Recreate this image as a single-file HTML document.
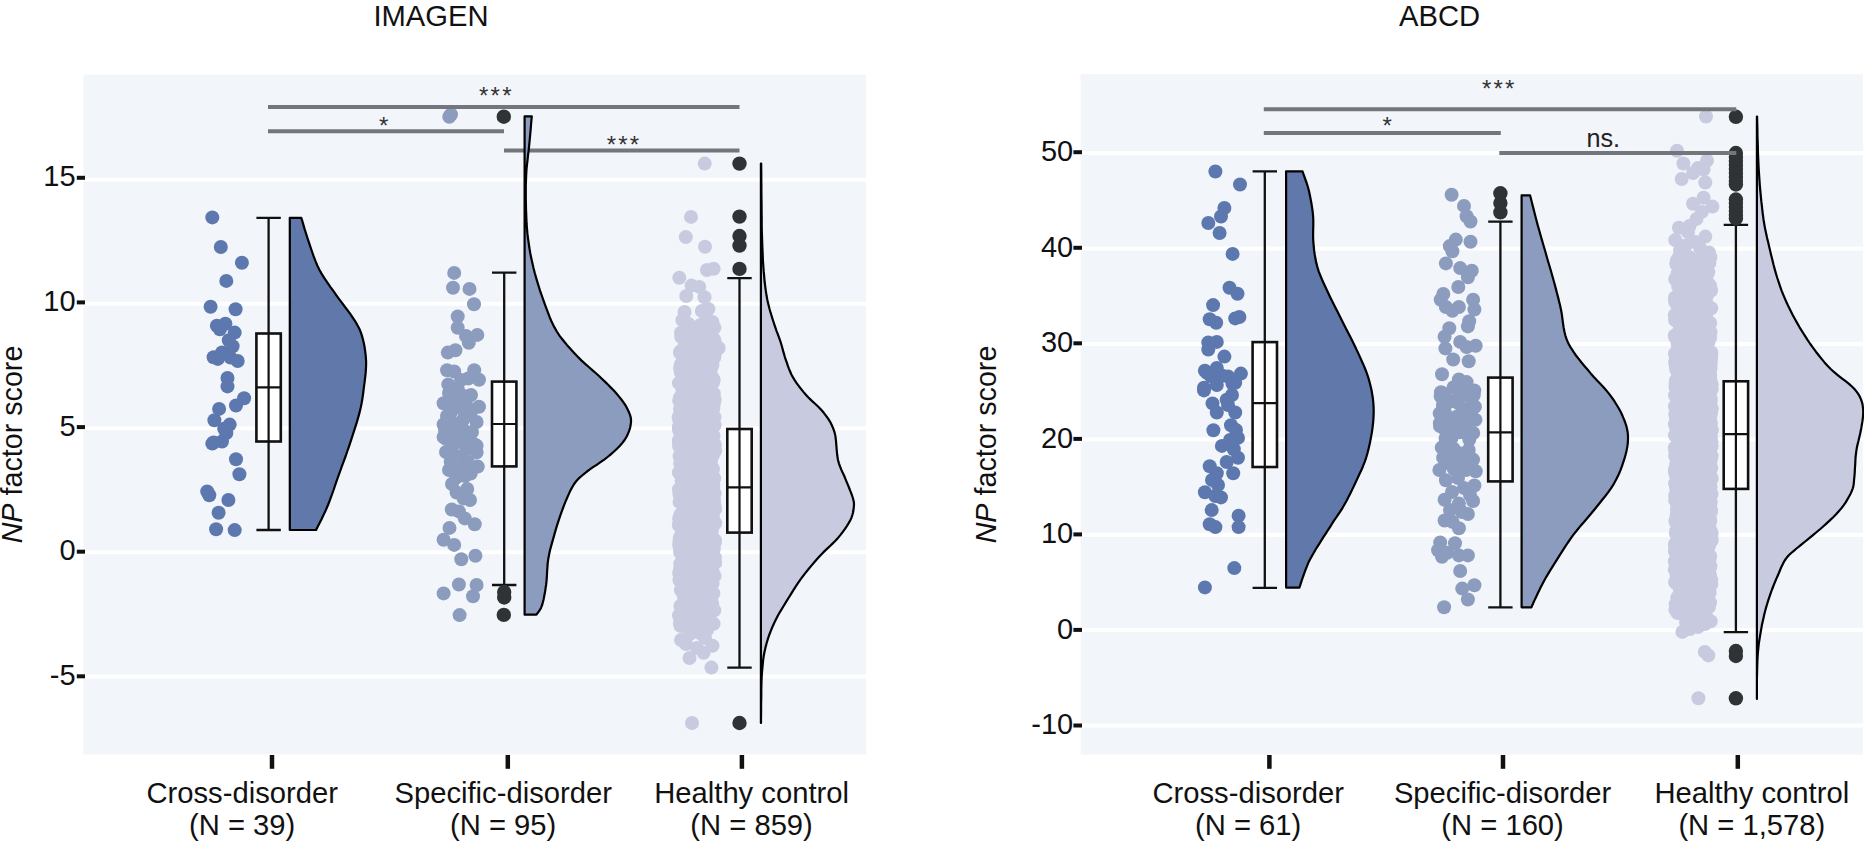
<!DOCTYPE html>
<html lang="en"><head><meta charset="utf-8"><title>NP factor score — IMAGEN and ABCD</title>
<style>html,body{margin:0;padding:0;background:#fff}body{width:1865px;height:849px;overflow:hidden}</style></head>
<body>
<svg width="1865" height="849" viewBox="0 0 1865 849" style="display:block;font-family:'Liberation Sans',Arial,Helvetica,sans-serif">
<rect width="1865" height="849" fill="#fff"/>
<rect x="83.4" y="74.6" width="782.5" height="679.9" fill="#f2f5f9"/>
<rect x="1080.6" y="74.2" width="782.4" height="680.3" fill="#f2f5f9"/>
<g stroke="#fff" stroke-width="4">
<path d="M83.4 179.8H865.9"/>
<path d="M83.4 303.8H865.9"/>
<path d="M83.4 428.2H865.9"/>
<path d="M83.4 552.3H865.9"/>
<path d="M83.4 676.4H865.9"/>
<path d="M1080.6 153H1863"/>
<path d="M1080.6 248.4H1863"/>
<path d="M1080.6 343.9H1863"/>
<path d="M1080.6 439.4H1863"/>
<path d="M1080.6 534.8H1863"/>
<path d="M1080.6 630.2H1863"/>
<path d="M1080.6 725.5H1863"/>
</g>
<g fill="#5d78ae">
<circle cx="212.3" cy="217.4" r="7"/><circle cx="220.8" cy="247" r="7"/><circle cx="241.9" cy="262.7" r="7"/><circle cx="226.3" cy="280.9" r="7"/><circle cx="210.6" cy="306.8" r="7"/><circle cx="235.6" cy="309.3" r="7"/><circle cx="216.9" cy="325.8" r="7"/><circle cx="225.4" cy="323.7" r="7"/><circle cx="234.7" cy="332.6" r="7"/><circle cx="228.8" cy="340.3" r="7"/><circle cx="213.6" cy="357.2" r="7"/><circle cx="222" cy="352.5" r="7"/><circle cx="230.5" cy="357.6" r="7"/><circle cx="237.7" cy="361" r="7"/><circle cx="227.5" cy="378" r="7"/><circle cx="227.5" cy="386.4" r="7"/><circle cx="244.1" cy="398.3" r="7"/><circle cx="236" cy="405.5" r="7"/><circle cx="219.1" cy="408.9" r="7"/><circle cx="214.4" cy="420.3" r="7"/><circle cx="229.7" cy="424.6" r="7"/><circle cx="226.3" cy="433.1" r="7"/><circle cx="222" cy="441.5" r="7"/><circle cx="212.3" cy="443.6" r="7"/><circle cx="236" cy="459.3" r="7"/><circle cx="239.4" cy="474.2" r="7"/><circle cx="207.2" cy="491.5" r="7"/><circle cx="209.3" cy="495.3" r="7"/><circle cx="228.4" cy="500" r="7"/><circle cx="218.6" cy="512.7" r="7"/><circle cx="216.1" cy="529.2" r="7"/><circle cx="234.7" cy="530.1" r="7"/><circle cx="219.9" cy="329.2" r="7"/><circle cx="217.8" cy="358.9" r="7"/><circle cx="232.6" cy="346.2" r="7"/><circle cx="224.2" cy="428.8" r="7"/><circle cx="213.6" cy="442.4" r="7"/>
</g>
<g fill="#8c9cbe">
<circle cx="454.2" cy="272.9" r="7"/><circle cx="453" cy="287.7" r="7"/><circle cx="469.5" cy="288.9" r="7"/><circle cx="474" cy="304.2" r="7"/><circle cx="457.7" cy="316.5" r="7"/><circle cx="457.7" cy="327.8" r="7"/><circle cx="477.3" cy="334.9" r="7"/><circle cx="466" cy="336" r="7"/><circle cx="468.8" cy="342.7" r="7"/><circle cx="455.4" cy="350.2" r="7"/><circle cx="447.8" cy="352.6" r="7"/><circle cx="447.1" cy="370.3" r="7"/><circle cx="454.2" cy="371.5" r="7"/><circle cx="474.2" cy="370.3" r="7"/><circle cx="468.3" cy="378.5" r="7"/><circle cx="479" cy="379.7" r="7"/><circle cx="448.3" cy="384.4" r="7"/><circle cx="457.7" cy="389.2" r="7"/><circle cx="464.8" cy="396.2" r="7"/><circle cx="443.6" cy="403.3" r="7"/><circle cx="479" cy="406.8" r="7"/><circle cx="450.7" cy="412.7" r="7"/><circle cx="469.5" cy="415" r="7"/><circle cx="443.6" cy="424.5" r="7"/><circle cx="476.6" cy="422" r="7"/><circle cx="462.5" cy="429" r="7"/><circle cx="446" cy="438.7" r="7"/><circle cx="469.5" cy="438.7" r="7"/><circle cx="476.6" cy="445.8" r="7"/><circle cx="443.6" cy="437" r="7"/><circle cx="457.7" cy="439.4" r="7"/><circle cx="474.2" cy="444.2" r="7"/><circle cx="476.6" cy="452.4" r="7"/><circle cx="453" cy="453.6" r="7"/><circle cx="462.5" cy="456" r="7"/><circle cx="450.7" cy="461.8" r="7"/><circle cx="477.8" cy="466.6" r="7"/><circle cx="470.7" cy="473.6" r="7"/><circle cx="456" cy="477.9" r="7"/><circle cx="467.2" cy="489" r="7"/><circle cx="456.6" cy="492.5" r="7"/><circle cx="463.6" cy="498.4" r="7"/><circle cx="451.8" cy="509.5" r="7"/><circle cx="458.9" cy="511.4" r="7"/><circle cx="464.8" cy="518.4" r="7"/><circle cx="474.7" cy="524.3" r="7"/><circle cx="449.5" cy="527.9" r="7"/><circle cx="443.6" cy="539.7" r="7"/><circle cx="454.2" cy="544.9" r="7"/><circle cx="475.4" cy="555.7" r="7"/><circle cx="461.3" cy="559.2" r="7"/><circle cx="458.9" cy="584.5" r="7"/><circle cx="476.6" cy="585" r="7"/><circle cx="443.6" cy="593.4" r="7"/><circle cx="473" cy="596.3" r="7"/><circle cx="459.6" cy="615.1" r="7"/><circle cx="449.3" cy="116.7" r="7"/><circle cx="451" cy="114.5" r="7"/><circle cx="452" cy="400" r="7"/><circle cx="460" cy="408" r="7"/><circle cx="447" cy="416" r="7"/><circle cx="456" cy="424" r="7"/><circle cx="466" cy="404" r="7"/><circle cx="472" cy="432" r="7"/><circle cx="452" cy="446" r="7"/><circle cx="462" cy="443" r="7"/><circle cx="446" cy="452" r="7"/><circle cx="468" cy="462" r="7"/><circle cx="459" cy="468" r="7"/><circle cx="449" cy="470" r="7"/><circle cx="463" cy="420" r="7"/><circle cx="455" cy="432" r="7"/><circle cx="471" cy="395" r="7"/><circle cx="449" cy="393" r="7"/><circle cx="461" cy="380" r="7"/><circle cx="467" cy="449" r="7"/><circle cx="472" cy="410" r="7"/><circle cx="445" cy="430" r="7"/><circle cx="458" cy="398" r="7"/><circle cx="465" cy="476" r="7"/><circle cx="452" cy="484" r="7"/><circle cx="470" cy="500" r="7"/>
</g>
<g fill="#c8cbe0">
<circle cx="691" cy="216.9" r="7"/><circle cx="685.8" cy="237.1" r="7"/><circle cx="705" cy="246.7" r="7"/><circle cx="713.6" cy="268.7" r="7"/><circle cx="707" cy="270" r="7"/><circle cx="679.3" cy="277.8" r="7"/><circle cx="691.5" cy="285.6" r="7"/><circle cx="699.3" cy="286.9" r="7"/><circle cx="686.3" cy="296" r="7"/><circle cx="704.5" cy="297.3" r="7"/><circle cx="684.5" cy="312" r="7"/><circle cx="701.9" cy="311" r="7"/><circle cx="708.4" cy="309" r="7"/><circle cx="718.7" cy="348" r="7"/><circle cx="704.7" cy="163.6" r="7"/><circle cx="689.5" cy="658" r="7"/><circle cx="703.6" cy="652.7" r="7"/><circle cx="712.5" cy="645.7" r="7"/><circle cx="686" cy="644" r="7"/><circle cx="711.4" cy="667.6" r="7"/><circle cx="692" cy="723" r="7"/><circle cx="681" cy="640" r="7"/><circle cx="697" cy="648" r="7"/><circle cx="705" cy="638" r="7"/><circle cx="690" cy="634" r="7"/><circle cx="702.5" cy="421.7" r="7"/><circle cx="697.3" cy="434.8" r="7"/><circle cx="694.2" cy="341.9" r="7"/><circle cx="686.9" cy="579.6" r="7"/><circle cx="699.8" cy="517" r="7"/><circle cx="683" cy="410.9" r="7"/><circle cx="685.3" cy="416.9" r="7"/><circle cx="692.3" cy="502.6" r="7"/><circle cx="680.9" cy="492" r="7"/><circle cx="700.1" cy="454.3" r="7"/><circle cx="707.8" cy="462.3" r="7"/><circle cx="699.7" cy="539.5" r="7"/><circle cx="705.4" cy="484.9" r="7"/><circle cx="706.4" cy="357.1" r="7"/><circle cx="680.1" cy="367.7" r="7"/><circle cx="699.7" cy="529.8" r="7"/><circle cx="704.1" cy="594.9" r="7"/><circle cx="695.4" cy="506.6" r="7"/><circle cx="680.9" cy="468.9" r="7"/><circle cx="715" cy="540.3" r="7"/><circle cx="692.8" cy="578.1" r="7"/><circle cx="695.6" cy="530" r="7"/><circle cx="680.9" cy="372.8" r="7"/><circle cx="687.8" cy="561.2" r="7"/><circle cx="681.6" cy="442.8" r="7"/><circle cx="711" cy="461" r="7"/><circle cx="691.8" cy="407.4" r="7"/><circle cx="687.2" cy="367.4" r="7"/><circle cx="700.3" cy="393.3" r="7"/><circle cx="694" cy="402.5" r="7"/><circle cx="713.6" cy="435.9" r="7"/><circle cx="701.3" cy="536.8" r="7"/><circle cx="711.6" cy="532.3" r="7"/><circle cx="693.3" cy="570.5" r="7"/><circle cx="686.3" cy="339.5" r="7"/><circle cx="680.6" cy="371" r="7"/><circle cx="682.4" cy="320.1" r="7"/><circle cx="710.7" cy="434.2" r="7"/><circle cx="687.9" cy="512.8" r="7"/><circle cx="683.2" cy="429.1" r="7"/><circle cx="681.8" cy="466.3" r="7"/><circle cx="688.4" cy="352.1" r="7"/><circle cx="679.5" cy="580.3" r="7"/><circle cx="692.1" cy="538.6" r="7"/><circle cx="690.8" cy="487.2" r="7"/><circle cx="697.6" cy="552.3" r="7"/><circle cx="679.7" cy="431.6" r="7"/><circle cx="704" cy="407.7" r="7"/><circle cx="685.9" cy="389.2" r="7"/><circle cx="708" cy="470.6" r="7"/><circle cx="685.2" cy="555.5" r="7"/><circle cx="708" cy="567.8" r="7"/><circle cx="683.3" cy="547.6" r="7"/><circle cx="709" cy="573.2" r="7"/><circle cx="683.5" cy="430" r="7"/><circle cx="712.9" cy="524" r="7"/><circle cx="708.9" cy="456.2" r="7"/><circle cx="689.4" cy="386.3" r="7"/><circle cx="688.2" cy="395.5" r="7"/><circle cx="712" cy="451.6" r="7"/><circle cx="700.1" cy="431.1" r="7"/><circle cx="712.3" cy="603.9" r="7"/><circle cx="697.9" cy="477.5" r="7"/><circle cx="707.9" cy="377.5" r="7"/><circle cx="705.2" cy="374.1" r="7"/><circle cx="697.7" cy="494.7" r="7"/><circle cx="682.6" cy="494.4" r="7"/><circle cx="688.8" cy="495.9" r="7"/><circle cx="699.3" cy="562.5" r="7"/><circle cx="697.2" cy="459.2" r="7"/><circle cx="695.3" cy="480.8" r="7"/><circle cx="713.2" cy="487.5" r="7"/><circle cx="713.2" cy="539.6" r="7"/><circle cx="713.2" cy="401.5" r="7"/><circle cx="683.2" cy="583.8" r="7"/><circle cx="687.5" cy="458.8" r="7"/><circle cx="711" cy="527.3" r="7"/><circle cx="713.6" cy="623.8" r="7"/><circle cx="714.9" cy="445.1" r="7"/><circle cx="694.5" cy="581.4" r="7"/><circle cx="685.9" cy="481.9" r="7"/><circle cx="679.4" cy="420" r="7"/><circle cx="679.4" cy="494" r="7"/><circle cx="697.4" cy="424.1" r="7"/><circle cx="680.1" cy="352.9" r="7"/><circle cx="683.4" cy="564.6" r="7"/><circle cx="684.2" cy="577.2" r="7"/><circle cx="680.8" cy="539.9" r="7"/><circle cx="681.4" cy="536.1" r="7"/><circle cx="710" cy="571.7" r="7"/><circle cx="698.9" cy="462.5" r="7"/><circle cx="683.4" cy="611" r="7"/><circle cx="682.7" cy="485.5" r="7"/><circle cx="686.1" cy="370.7" r="7"/><circle cx="706.5" cy="418" r="7"/><circle cx="685.2" cy="411" r="7"/><circle cx="687.9" cy="429" r="7"/><circle cx="696.1" cy="493" r="7"/><circle cx="708.7" cy="613.5" r="7"/><circle cx="709.2" cy="455.7" r="7"/><circle cx="703.9" cy="443.4" r="7"/><circle cx="691.4" cy="519.7" r="7"/><circle cx="681.3" cy="337.1" r="7"/><circle cx="684.7" cy="552.6" r="7"/><circle cx="689.4" cy="408.5" r="7"/><circle cx="695" cy="464.3" r="7"/><circle cx="678.7" cy="417.2" r="7"/><circle cx="697.1" cy="439.8" r="7"/><circle cx="678.9" cy="383.1" r="7"/><circle cx="693.3" cy="402.9" r="7"/><circle cx="689.8" cy="333.1" r="7"/><circle cx="698.1" cy="393.1" r="7"/><circle cx="704.9" cy="555.7" r="7"/><circle cx="690.6" cy="596" r="7"/><circle cx="705.2" cy="629.2" r="7"/><circle cx="709.3" cy="522" r="7"/><circle cx="683.8" cy="550.4" r="7"/><circle cx="709.3" cy="484.5" r="7"/><circle cx="703.7" cy="503.4" r="7"/><circle cx="679.8" cy="537.7" r="7"/><circle cx="682.5" cy="361.8" r="7"/><circle cx="701.7" cy="582.4" r="7"/><circle cx="696.6" cy="516.6" r="7"/><circle cx="698.3" cy="555" r="7"/><circle cx="705.7" cy="527" r="7"/><circle cx="688.4" cy="399.2" r="7"/><circle cx="705.8" cy="549" r="7"/><circle cx="703.7" cy="440.1" r="7"/><circle cx="702.2" cy="560.8" r="7"/><circle cx="688" cy="344.3" r="7"/><circle cx="699.5" cy="553.4" r="7"/><circle cx="688.5" cy="323.9" r="7"/><circle cx="703.4" cy="531" r="7"/><circle cx="695.7" cy="411.3" r="7"/><circle cx="711.4" cy="466.4" r="7"/><circle cx="695.5" cy="614" r="7"/><circle cx="686.4" cy="461.1" r="7"/><circle cx="700" cy="616.9" r="7"/><circle cx="708.7" cy="619.2" r="7"/><circle cx="704.4" cy="479.7" r="7"/><circle cx="678.8" cy="472.6" r="7"/><circle cx="689.8" cy="474.4" r="7"/><circle cx="690.3" cy="364.2" r="7"/><circle cx="706.2" cy="583.8" r="7"/><circle cx="712.6" cy="583.5" r="7"/><circle cx="693.1" cy="411" r="7"/><circle cx="688.8" cy="433.3" r="7"/><circle cx="709.2" cy="335.2" r="7"/><circle cx="697.4" cy="398.3" r="7"/><circle cx="713.7" cy="379.6" r="7"/><circle cx="713.1" cy="518.1" r="7"/><circle cx="680.5" cy="492.5" r="7"/><circle cx="706.2" cy="550" r="7"/><circle cx="680.5" cy="522.4" r="7"/><circle cx="696" cy="611" r="7"/><circle cx="705.7" cy="427.9" r="7"/><circle cx="702.7" cy="626.6" r="7"/><circle cx="693.1" cy="414.5" r="7"/><circle cx="686.3" cy="372.5" r="7"/><circle cx="682" cy="363.8" r="7"/><circle cx="687.5" cy="427.4" r="7"/><circle cx="711.2" cy="401.1" r="7"/><circle cx="693.8" cy="555.4" r="7"/><circle cx="691.1" cy="484.6" r="7"/><circle cx="714.1" cy="339.5" r="7"/><circle cx="686.6" cy="517.7" r="7"/><circle cx="693.3" cy="405.1" r="7"/><circle cx="704.7" cy="326.8" r="7"/><circle cx="700.2" cy="601.2" r="7"/><circle cx="684.4" cy="398" r="7"/><circle cx="713.2" cy="484" r="7"/><circle cx="706.7" cy="546.6" r="7"/><circle cx="680.1" cy="463.6" r="7"/><circle cx="712.4" cy="565.6" r="7"/><circle cx="683.4" cy="522.7" r="7"/><circle cx="704.3" cy="399.1" r="7"/><circle cx="697.9" cy="355.2" r="7"/><circle cx="686.9" cy="503" r="7"/><circle cx="689.7" cy="508.7" r="7"/><circle cx="696.1" cy="522.4" r="7"/><circle cx="713.9" cy="393.7" r="7"/><circle cx="679.5" cy="541.3" r="7"/><circle cx="694.1" cy="476.5" r="7"/><circle cx="712.6" cy="400.8" r="7"/><circle cx="691.1" cy="391.2" r="7"/><circle cx="685.9" cy="452.1" r="7"/><circle cx="714.2" cy="478.5" r="7"/><circle cx="687.1" cy="417.9" r="7"/><circle cx="686.9" cy="475.7" r="7"/><circle cx="713.4" cy="450.9" r="7"/><circle cx="686.5" cy="366" r="7"/><circle cx="680.6" cy="625.9" r="7"/><circle cx="711.6" cy="338.9" r="7"/><circle cx="713" cy="423.4" r="7"/><circle cx="703" cy="554.3" r="7"/><circle cx="690.8" cy="438.9" r="7"/><circle cx="688.9" cy="373.1" r="7"/><circle cx="708.8" cy="385.1" r="7"/><circle cx="680.5" cy="578.1" r="7"/><circle cx="712.4" cy="468.7" r="7"/><circle cx="711.5" cy="380.6" r="7"/><circle cx="681" cy="332.8" r="7"/><circle cx="706.1" cy="608.9" r="7"/><circle cx="688.7" cy="602.1" r="7"/><circle cx="690.3" cy="402.3" r="7"/><circle cx="706.4" cy="406.5" r="7"/><circle cx="687.3" cy="616.2" r="7"/><circle cx="696.8" cy="398.8" r="7"/><circle cx="708.1" cy="611.4" r="7"/><circle cx="690.7" cy="562.7" r="7"/><circle cx="707.3" cy="420.3" r="7"/><circle cx="706.3" cy="344.8" r="7"/><circle cx="679.9" cy="397.7" r="7"/><circle cx="714.6" cy="493.5" r="7"/><circle cx="682.2" cy="403.2" r="7"/><circle cx="695.1" cy="476.5" r="7"/><circle cx="701.4" cy="393.5" r="7"/><circle cx="709.7" cy="531.7" r="7"/><circle cx="709.5" cy="528.6" r="7"/><circle cx="692.4" cy="412.2" r="7"/><circle cx="687.8" cy="551.8" r="7"/><circle cx="711.1" cy="397" r="7"/><circle cx="693.2" cy="501.6" r="7"/><circle cx="689.4" cy="607.1" r="7"/><circle cx="714.3" cy="357.4" r="7"/><circle cx="692.3" cy="503.1" r="7"/><circle cx="688.2" cy="592" r="7"/><circle cx="692.2" cy="514.7" r="7"/><circle cx="688" cy="364.4" r="7"/><circle cx="686.1" cy="508.2" r="7"/><circle cx="703.5" cy="323.6" r="7"/><circle cx="686.1" cy="378.1" r="7"/><circle cx="681" cy="569.7" r="7"/><circle cx="698.8" cy="351.8" r="7"/><circle cx="684.7" cy="520.7" r="7"/><circle cx="689.1" cy="538.4" r="7"/><circle cx="691.8" cy="418.1" r="7"/><circle cx="715.2" cy="450.8" r="7"/><circle cx="705.3" cy="434.2" r="7"/><circle cx="711.7" cy="384" r="7"/><circle cx="693.6" cy="453.1" r="7"/><circle cx="684.6" cy="597.2" r="7"/><circle cx="682" cy="521.2" r="7"/><circle cx="697.2" cy="515.4" r="7"/><circle cx="697.8" cy="365.8" r="7"/><circle cx="696.7" cy="610.6" r="7"/><circle cx="713.2" cy="382" r="7"/><circle cx="684.6" cy="514.8" r="7"/><circle cx="693.5" cy="566.7" r="7"/><circle cx="693.3" cy="377.5" r="7"/><circle cx="683.2" cy="482.6" r="7"/><circle cx="699.3" cy="601.8" r="7"/><circle cx="709.4" cy="557.8" r="7"/><circle cx="689.9" cy="492.7" r="7"/><circle cx="694.3" cy="451.9" r="7"/><circle cx="694.7" cy="526.9" r="7"/><circle cx="706.6" cy="473.7" r="7"/><circle cx="685.3" cy="564.9" r="7"/><circle cx="683.4" cy="468.6" r="7"/><circle cx="694.9" cy="455.2" r="7"/><circle cx="702" cy="480.2" r="7"/><circle cx="680.7" cy="564.2" r="7"/><circle cx="713.5" cy="478.2" r="7"/><circle cx="714.6" cy="575.9" r="7"/><circle cx="707.6" cy="607.6" r="7"/><circle cx="691.5" cy="612.2" r="7"/><circle cx="711.5" cy="557.4" r="7"/><circle cx="712.4" cy="365.1" r="7"/><circle cx="697.2" cy="385.4" r="7"/><circle cx="685.4" cy="420.2" r="7"/><circle cx="684.9" cy="533.4" r="7"/><circle cx="698.1" cy="566.4" r="7"/><circle cx="710.7" cy="519.8" r="7"/><circle cx="711" cy="494.3" r="7"/><circle cx="707.9" cy="517.7" r="7"/><circle cx="706.7" cy="501.3" r="7"/><circle cx="705.9" cy="458.9" r="7"/><circle cx="714.7" cy="399.6" r="7"/><circle cx="690.1" cy="504" r="7"/><circle cx="684.2" cy="320.6" r="7"/><circle cx="697.5" cy="513.4" r="7"/><circle cx="687" cy="601.2" r="7"/><circle cx="678.8" cy="525.1" r="7"/><circle cx="691.8" cy="431.5" r="7"/><circle cx="700.3" cy="390.4" r="7"/><circle cx="713" cy="469.1" r="7"/><circle cx="682.2" cy="396.5" r="7"/><circle cx="707.3" cy="520.4" r="7"/><circle cx="679.1" cy="446.2" r="7"/><circle cx="691.5" cy="522.5" r="7"/><circle cx="713" cy="522.7" r="7"/><circle cx="711.8" cy="550.3" r="7"/><circle cx="680.8" cy="447.5" r="7"/><circle cx="698.9" cy="564.6" r="7"/><circle cx="686" cy="615.4" r="7"/><circle cx="702.2" cy="510.9" r="7"/><circle cx="690" cy="575.4" r="7"/><circle cx="711.3" cy="414.3" r="7"/><circle cx="705.8" cy="554" r="7"/><circle cx="682.6" cy="462.1" r="7"/><circle cx="691" cy="392.9" r="7"/><circle cx="709.6" cy="555.4" r="7"/><circle cx="699" cy="543.5" r="7"/><circle cx="697.9" cy="456.9" r="7"/><circle cx="714" cy="403.3" r="7"/><circle cx="687.3" cy="324.8" r="7"/><circle cx="710.9" cy="554.3" r="7"/><circle cx="711.9" cy="423.2" r="7"/><circle cx="703" cy="518" r="7"/><circle cx="705.2" cy="589.3" r="7"/><circle cx="686.5" cy="499.1" r="7"/><circle cx="712" cy="515.5" r="7"/><circle cx="682.6" cy="365.4" r="7"/><circle cx="683.9" cy="611.7" r="7"/><circle cx="704.1" cy="329" r="7"/><circle cx="705.7" cy="519" r="7"/><circle cx="708.7" cy="434.1" r="7"/><circle cx="710.5" cy="599.9" r="7"/><circle cx="682.8" cy="353.6" r="7"/><circle cx="708.9" cy="575" r="7"/><circle cx="682.4" cy="518.3" r="7"/><circle cx="694.2" cy="384.4" r="7"/><circle cx="689" cy="326.6" r="7"/><circle cx="690.4" cy="544.7" r="7"/><circle cx="691.4" cy="457" r="7"/><circle cx="686.6" cy="541.3" r="7"/><circle cx="708.7" cy="590.7" r="7"/><circle cx="686.1" cy="373.5" r="7"/><circle cx="685.5" cy="474.3" r="7"/><circle cx="709.1" cy="475.3" r="7"/><circle cx="704.3" cy="409.1" r="7"/><circle cx="702" cy="476.5" r="7"/><circle cx="701.7" cy="538.9" r="7"/><circle cx="693.1" cy="431.7" r="7"/><circle cx="711.2" cy="599.6" r="7"/><circle cx="688.3" cy="327.9" r="7"/><circle cx="687.2" cy="439.1" r="7"/><circle cx="706.3" cy="464.7" r="7"/><circle cx="691.5" cy="556.4" r="7"/><circle cx="709.6" cy="422.6" r="7"/><circle cx="684.9" cy="527.9" r="7"/><circle cx="699.9" cy="457.8" r="7"/><circle cx="711.1" cy="359.6" r="7"/><circle cx="689.7" cy="394.7" r="7"/><circle cx="684.4" cy="540.8" r="7"/><circle cx="690.7" cy="369" r="7"/><circle cx="690.7" cy="484" r="7"/><circle cx="713.9" cy="548.8" r="7"/><circle cx="714.7" cy="351.9" r="7"/><circle cx="702.1" cy="456.6" r="7"/><circle cx="692.9" cy="353.6" r="7"/><circle cx="697" cy="568.4" r="7"/><circle cx="683.9" cy="518.6" r="7"/><circle cx="705.8" cy="509.6" r="7"/><circle cx="699.7" cy="605.1" r="7"/><circle cx="687.1" cy="555.2" r="7"/><circle cx="709.9" cy="563.1" r="7"/><circle cx="695.3" cy="533.4" r="7"/><circle cx="682.3" cy="418.3" r="7"/><circle cx="704.8" cy="451.7" r="7"/><circle cx="694.2" cy="517.7" r="7"/><circle cx="693.7" cy="462.9" r="7"/><circle cx="685.4" cy="532" r="7"/><circle cx="692.9" cy="525.5" r="7"/><circle cx="697.4" cy="489.9" r="7"/><circle cx="697.8" cy="520.7" r="7"/><circle cx="683.2" cy="443.2" r="7"/><circle cx="693.3" cy="337.8" r="7"/><circle cx="691.6" cy="452.1" r="7"/><circle cx="705.8" cy="403.3" r="7"/><circle cx="683.4" cy="443.1" r="7"/><circle cx="699.3" cy="519.2" r="7"/><circle cx="708.7" cy="430.9" r="7"/><circle cx="689.5" cy="576.3" r="7"/><circle cx="709.2" cy="492.2" r="7"/><circle cx="688.5" cy="431.4" r="7"/><circle cx="694.3" cy="438.1" r="7"/><circle cx="705.1" cy="378.4" r="7"/><circle cx="689.7" cy="408.3" r="7"/><circle cx="702" cy="470.6" r="7"/><circle cx="712.7" cy="527" r="7"/><circle cx="709" cy="588.3" r="7"/><circle cx="679.1" cy="518.8" r="7"/><circle cx="683.9" cy="398.5" r="7"/><circle cx="711.8" cy="428.8" r="7"/><circle cx="711.3" cy="568.6" r="7"/><circle cx="703.2" cy="511" r="7"/><circle cx="704.1" cy="583.4" r="7"/><circle cx="694.8" cy="486.7" r="7"/><circle cx="683.8" cy="403.1" r="7"/><circle cx="695.8" cy="474.8" r="7"/><circle cx="696.9" cy="365.3" r="7"/><circle cx="678.9" cy="489.4" r="7"/><circle cx="699.3" cy="584" r="7"/><circle cx="692.4" cy="528.9" r="7"/><circle cx="701" cy="519.7" r="7"/><circle cx="711.6" cy="480.3" r="7"/><circle cx="710.2" cy="516.3" r="7"/><circle cx="697.9" cy="435" r="7"/><circle cx="694.6" cy="562" r="7"/><circle cx="709" cy="452.6" r="7"/><circle cx="688.6" cy="446.8" r="7"/><circle cx="690.8" cy="525.5" r="7"/><circle cx="700.2" cy="419.6" r="7"/><circle cx="680.2" cy="519.3" r="7"/><circle cx="689.7" cy="491.3" r="7"/><circle cx="712.4" cy="322" r="7"/><circle cx="707.6" cy="511.1" r="7"/><circle cx="704.2" cy="513.6" r="7"/><circle cx="686.5" cy="507.2" r="7"/><circle cx="706.6" cy="529.4" r="7"/><circle cx="680.1" cy="351.8" r="7"/><circle cx="708.8" cy="525.9" r="7"/><circle cx="688.1" cy="567" r="7"/><circle cx="690.4" cy="414.8" r="7"/><circle cx="712.9" cy="455.2" r="7"/><circle cx="708.4" cy="332.4" r="7"/><circle cx="695" cy="500.7" r="7"/><circle cx="714.6" cy="505.9" r="7"/><circle cx="682.4" cy="469.3" r="7"/><circle cx="684.3" cy="522.4" r="7"/><circle cx="703.7" cy="324.9" r="7"/><circle cx="705" cy="360.5" r="7"/><circle cx="707" cy="378.8" r="7"/><circle cx="705.4" cy="544.1" r="7"/><circle cx="712.8" cy="542.7" r="7"/><circle cx="679.2" cy="545.2" r="7"/><circle cx="681.6" cy="524.3" r="7"/><circle cx="684.8" cy="417.7" r="7"/><circle cx="680.9" cy="590.3" r="7"/><circle cx="694.8" cy="435.4" r="7"/><circle cx="707.9" cy="532.5" r="7"/><circle cx="701.7" cy="434.1" r="7"/><circle cx="707.5" cy="451.2" r="7"/><circle cx="680.9" cy="498" r="7"/><circle cx="700.9" cy="579.8" r="7"/><circle cx="694.4" cy="508.8" r="7"/><circle cx="703.8" cy="598.9" r="7"/><circle cx="708.3" cy="509" r="7"/><circle cx="688.3" cy="409" r="7"/><circle cx="708.6" cy="452.7" r="7"/><circle cx="709.2" cy="598.7" r="7"/><circle cx="709.9" cy="499.6" r="7"/><circle cx="681.8" cy="606.9" r="7"/><circle cx="686" cy="493.9" r="7"/><circle cx="703.5" cy="393.5" r="7"/><circle cx="688" cy="466.1" r="7"/><circle cx="708.2" cy="464.4" r="7"/><circle cx="699.9" cy="562.5" r="7"/><circle cx="700.3" cy="483.9" r="7"/><circle cx="685.3" cy="379.4" r="7"/><circle cx="699.4" cy="540.1" r="7"/><circle cx="684.2" cy="446.4" r="7"/><circle cx="701.9" cy="437.4" r="7"/><circle cx="700.6" cy="567.2" r="7"/><circle cx="679.5" cy="428.3" r="7"/><circle cx="699.5" cy="591.9" r="7"/><circle cx="680.1" cy="622.5" r="7"/><circle cx="681.8" cy="383.1" r="7"/><circle cx="713.4" cy="593.4" r="7"/><circle cx="700.6" cy="605.7" r="7"/><circle cx="713.8" cy="444.8" r="7"/><circle cx="702.1" cy="400.8" r="7"/><circle cx="684.5" cy="443.4" r="7"/><circle cx="688.1" cy="389.6" r="7"/><circle cx="714.8" cy="542.8" r="7"/><circle cx="706.3" cy="337.5" r="7"/><circle cx="706.4" cy="413.8" r="7"/><circle cx="688.1" cy="353.1" r="7"/><circle cx="684.9" cy="359" r="7"/><circle cx="703.5" cy="394.9" r="7"/><circle cx="712.7" cy="381.3" r="7"/><circle cx="682.2" cy="363.9" r="7"/><circle cx="691.1" cy="517.3" r="7"/><circle cx="701.7" cy="578.4" r="7"/><circle cx="680.8" cy="364.8" r="7"/><circle cx="684" cy="544.1" r="7"/><circle cx="693.8" cy="593.4" r="7"/><circle cx="709.4" cy="368.9" r="7"/><circle cx="696.7" cy="425" r="7"/><circle cx="696.2" cy="529.8" r="7"/><circle cx="686.1" cy="409.9" r="7"/><circle cx="711.5" cy="350.6" r="7"/><circle cx="678.8" cy="427" r="7"/><circle cx="685.5" cy="581.3" r="7"/><circle cx="683.8" cy="388.5" r="7"/><circle cx="681.6" cy="543.4" r="7"/><circle cx="686.2" cy="475.6" r="7"/><circle cx="708.4" cy="512.3" r="7"/><circle cx="681.1" cy="503" r="7"/><circle cx="705.1" cy="550.1" r="7"/><circle cx="710.3" cy="425.3" r="7"/><circle cx="712" cy="474.8" r="7"/><circle cx="688.4" cy="469.7" r="7"/><circle cx="692.3" cy="435.3" r="7"/><circle cx="697.7" cy="506.8" r="7"/><circle cx="683.1" cy="460" r="7"/><circle cx="710.4" cy="544.4" r="7"/><circle cx="692.7" cy="420.8" r="7"/><circle cx="710.6" cy="555.9" r="7"/><circle cx="698.4" cy="481.2" r="7"/><circle cx="682.5" cy="390.2" r="7"/><circle cx="704.3" cy="329.4" r="7"/><circle cx="700.6" cy="381.3" r="7"/><circle cx="704.4" cy="501" r="7"/><circle cx="683.2" cy="545.2" r="7"/><circle cx="688.9" cy="475" r="7"/><circle cx="683.7" cy="358.3" r="7"/><circle cx="684.1" cy="505.8" r="7"/><circle cx="684.7" cy="499.9" r="7"/><circle cx="709.4" cy="442.1" r="7"/><circle cx="713.2" cy="485" r="7"/><circle cx="687.5" cy="563.9" r="7"/><circle cx="714.6" cy="425.2" r="7"/><circle cx="701.9" cy="398.3" r="7"/><circle cx="681.2" cy="434.4" r="7"/><circle cx="679.5" cy="456" r="7"/><circle cx="711.1" cy="518.8" r="7"/><circle cx="702.2" cy="597.8" r="7"/><circle cx="688.7" cy="403.5" r="7"/><circle cx="701.4" cy="490.3" r="7"/><circle cx="694.6" cy="398.7" r="7"/><circle cx="689.9" cy="618.6" r="7"/><circle cx="700.5" cy="523.3" r="7"/><circle cx="698.2" cy="404.3" r="7"/><circle cx="683.5" cy="366.6" r="7"/><circle cx="689.3" cy="412.2" r="7"/><circle cx="698.7" cy="396.4" r="7"/><circle cx="686.1" cy="499" r="7"/><circle cx="698.8" cy="543.1" r="7"/><circle cx="690.1" cy="512.4" r="7"/><circle cx="697.5" cy="396.1" r="7"/><circle cx="679.1" cy="440.3" r="7"/><circle cx="687.4" cy="430.7" r="7"/><circle cx="689.1" cy="494.8" r="7"/><circle cx="707" cy="630.1" r="7"/><circle cx="710.6" cy="369.8" r="7"/><circle cx="692.9" cy="458.2" r="7"/><circle cx="682.7" cy="458.1" r="7"/><circle cx="691" cy="551.9" r="7"/><circle cx="701.3" cy="430.7" r="7"/><circle cx="705.9" cy="482.6" r="7"/><circle cx="707.4" cy="558.5" r="7"/><circle cx="713.9" cy="504" r="7"/><circle cx="707.4" cy="499.6" r="7"/><circle cx="695.5" cy="439.2" r="7"/><circle cx="693" cy="547" r="7"/><circle cx="690.5" cy="494.4" r="7"/><circle cx="685.4" cy="476.9" r="7"/><circle cx="699.8" cy="415.5" r="7"/><circle cx="712.4" cy="502.6" r="7"/><circle cx="709.4" cy="421.7" r="7"/><circle cx="694.3" cy="621.1" r="7"/><circle cx="680.4" cy="605.9" r="7"/><circle cx="712.4" cy="497.4" r="7"/><circle cx="715.2" cy="562.9" r="7"/><circle cx="703.8" cy="482.5" r="7"/><circle cx="700.5" cy="442.3" r="7"/><circle cx="682.3" cy="532.4" r="7"/><circle cx="699.2" cy="437.6" r="7"/><circle cx="714" cy="500.3" r="7"/><circle cx="701.6" cy="472.8" r="7"/><circle cx="684.9" cy="486.5" r="7"/><circle cx="682.7" cy="579.4" r="7"/><circle cx="684.4" cy="598.9" r="7"/><circle cx="697.2" cy="411" r="7"/><circle cx="701.8" cy="379.1" r="7"/><circle cx="715.1" cy="509.4" r="7"/><circle cx="693.8" cy="519.9" r="7"/><circle cx="704" cy="567.3" r="7"/><circle cx="709.5" cy="321.2" r="7"/><circle cx="685.9" cy="504.1" r="7"/><circle cx="688.4" cy="476.3" r="7"/><circle cx="715.2" cy="523.1" r="7"/><circle cx="683.1" cy="500.4" r="7"/><circle cx="684.9" cy="353.5" r="7"/><circle cx="701.1" cy="484.1" r="7"/><circle cx="679.2" cy="573.3" r="7"/><circle cx="704.9" cy="562" r="7"/><circle cx="688.5" cy="431.1" r="7"/><circle cx="695.2" cy="502.8" r="7"/><circle cx="711.3" cy="441.1" r="7"/><circle cx="694.8" cy="503" r="7"/><circle cx="680.3" cy="514.7" r="7"/><circle cx="700.8" cy="576.2" r="7"/><circle cx="693" cy="618.2" r="7"/><circle cx="690" cy="545.6" r="7"/><circle cx="707.7" cy="594.8" r="7"/><circle cx="691.8" cy="396.4" r="7"/><circle cx="682.9" cy="411.3" r="7"/><circle cx="693.5" cy="487.6" r="7"/><circle cx="708.9" cy="340.6" r="7"/><circle cx="685.7" cy="430.3" r="7"/><circle cx="680" cy="409" r="7"/><circle cx="684.4" cy="528.6" r="7"/><circle cx="688.6" cy="541.6" r="7"/><circle cx="694.9" cy="582.2" r="7"/><circle cx="705.1" cy="370" r="7"/><circle cx="695.3" cy="478.5" r="7"/><circle cx="687.7" cy="504.5" r="7"/><circle cx="710.6" cy="511" r="7"/><circle cx="706.9" cy="490.4" r="7"/><circle cx="699.5" cy="440.8" r="7"/><circle cx="681.8" cy="417.6" r="7"/><circle cx="682.7" cy="420.8" r="7"/><circle cx="697" cy="496.5" r="7"/><circle cx="690.1" cy="413.2" r="7"/><circle cx="704.9" cy="391.1" r="7"/><circle cx="712" cy="408.7" r="7"/><circle cx="688.8" cy="590.4" r="7"/><circle cx="693.8" cy="528.4" r="7"/><circle cx="687.8" cy="526.9" r="7"/><circle cx="701.7" cy="585.9" r="7"/><circle cx="712.1" cy="377" r="7"/><circle cx="680.2" cy="550.5" r="7"/><circle cx="686" cy="332.6" r="7"/><circle cx="680.1" cy="415.2" r="7"/><circle cx="685.3" cy="417.6" r="7"/><circle cx="704.9" cy="583.6" r="7"/><circle cx="703.7" cy="400" r="7"/><circle cx="709.2" cy="429.6" r="7"/><circle cx="680.3" cy="563.8" r="7"/><circle cx="682.8" cy="334.9" r="7"/><circle cx="712.2" cy="568.5" r="7"/><circle cx="704.1" cy="555.4" r="7"/><circle cx="709" cy="443.6" r="7"/><circle cx="713.3" cy="408.3" r="7"/><circle cx="709.1" cy="537.2" r="7"/><circle cx="680.7" cy="517.2" r="7"/><circle cx="697.4" cy="539.3" r="7"/><circle cx="706.6" cy="611.4" r="7"/><circle cx="698.7" cy="573" r="7"/><circle cx="680.9" cy="490.8" r="7"/><circle cx="686.1" cy="432.4" r="7"/><circle cx="704.6" cy="417.5" r="7"/><circle cx="687.5" cy="530.5" r="7"/><circle cx="713" cy="481.8" r="7"/><circle cx="711.1" cy="430.4" r="7"/><circle cx="698.8" cy="424.7" r="7"/><circle cx="703.1" cy="558.8" r="7"/><circle cx="706.7" cy="508" r="7"/><circle cx="689.3" cy="581" r="7"/><circle cx="680.9" cy="433.2" r="7"/><circle cx="704.4" cy="408.2" r="7"/><circle cx="690.6" cy="460.7" r="7"/><circle cx="684.9" cy="467.2" r="7"/><circle cx="715" cy="342.6" r="7"/><circle cx="704.9" cy="555.6" r="7"/><circle cx="698.6" cy="456.4" r="7"/><circle cx="712.9" cy="522.4" r="7"/><circle cx="687.7" cy="524.9" r="7"/><circle cx="707" cy="363.5" r="7"/><circle cx="685.5" cy="583.6" r="7"/><circle cx="712.6" cy="520.4" r="7"/><circle cx="708.9" cy="422.6" r="7"/><circle cx="698.9" cy="420.5" r="7"/><circle cx="687.5" cy="436" r="7"/><circle cx="704.5" cy="517.3" r="7"/><circle cx="684.5" cy="475.2" r="7"/><circle cx="681.6" cy="414.1" r="7"/><circle cx="694.9" cy="536" r="7"/><circle cx="680.2" cy="624.5" r="7"/><circle cx="705.2" cy="458" r="7"/><circle cx="702.9" cy="453.6" r="7"/><circle cx="691.1" cy="481.6" r="7"/><circle cx="708.9" cy="457.7" r="7"/><circle cx="689.5" cy="603.9" r="7"/><circle cx="691.4" cy="459.2" r="7"/><circle cx="690.5" cy="381.4" r="7"/><circle cx="680.9" cy="514.6" r="7"/><circle cx="689.6" cy="532.4" r="7"/><circle cx="696.3" cy="499.3" r="7"/><circle cx="691.3" cy="523.3" r="7"/><circle cx="685.6" cy="597.9" r="7"/><circle cx="681.8" cy="533.1" r="7"/><circle cx="700" cy="527.4" r="7"/><circle cx="699.4" cy="450.7" r="7"/><circle cx="685.3" cy="444.5" r="7"/><circle cx="698.1" cy="399.6" r="7"/><circle cx="699" cy="399" r="7"/><circle cx="682.8" cy="391.1" r="7"/><circle cx="681.6" cy="481.1" r="7"/><circle cx="694.8" cy="448.1" r="7"/><circle cx="704.9" cy="591.1" r="7"/><circle cx="715" cy="557.7" r="7"/><circle cx="709.1" cy="546.6" r="7"/><circle cx="713.8" cy="443.1" r="7"/><circle cx="683.7" cy="496.8" r="7"/><circle cx="687.4" cy="563.7" r="7"/><circle cx="700.5" cy="436.9" r="7"/><circle cx="704.6" cy="386.9" r="7"/><circle cx="701.4" cy="453.8" r="7"/><circle cx="703.6" cy="427.2" r="7"/><circle cx="692.4" cy="579.2" r="7"/><circle cx="700.8" cy="546.6" r="7"/><circle cx="712.6" cy="572.1" r="7"/><circle cx="685.8" cy="532" r="7"/><circle cx="700" cy="460.3" r="7"/><circle cx="682.7" cy="355.7" r="7"/><circle cx="699" cy="571.4" r="7"/><circle cx="692.6" cy="411.1" r="7"/><circle cx="708.3" cy="489.1" r="7"/><circle cx="691.2" cy="617.9" r="7"/><circle cx="710.7" cy="367.4" r="7"/><circle cx="685.4" cy="571.3" r="7"/><circle cx="684.5" cy="443.3" r="7"/><circle cx="710.7" cy="585.4" r="7"/><circle cx="690.8" cy="511.8" r="7"/><circle cx="684.9" cy="505" r="7"/><circle cx="699.8" cy="433.3" r="7"/><circle cx="678.9" cy="441.8" r="7"/><circle cx="679.5" cy="501.9" r="7"/><circle cx="703.3" cy="334.2" r="7"/><circle cx="697" cy="405.6" r="7"/><circle cx="698" cy="402.3" r="7"/><circle cx="701.9" cy="563.1" r="7"/><circle cx="707.8" cy="434" r="7"/><circle cx="706.6" cy="533.9" r="7"/><circle cx="701.9" cy="552.2" r="7"/><circle cx="693.6" cy="430" r="7"/><circle cx="690.5" cy="339" r="7"/><circle cx="687.3" cy="435.3" r="7"/><circle cx="679" cy="429.7" r="7"/><circle cx="695" cy="593.5" r="7"/><circle cx="684.9" cy="498.6" r="7"/><circle cx="690" cy="340.8" r="7"/><circle cx="713" cy="548.2" r="7"/><circle cx="685.2" cy="503.2" r="7"/><circle cx="691.8" cy="502.3" r="7"/><circle cx="710.5" cy="563.2" r="7"/><circle cx="688.1" cy="602.3" r="7"/><circle cx="688.5" cy="327.2" r="7"/><circle cx="693.3" cy="541.2" r="7"/><circle cx="683.7" cy="594.9" r="7"/><circle cx="710.7" cy="379.1" r="7"/><circle cx="686.5" cy="520.9" r="7"/><circle cx="702.5" cy="422.6" r="7"/><circle cx="691.1" cy="447.3" r="7"/><circle cx="700.6" cy="425" r="7"/><circle cx="679.2" cy="400.7" r="7"/><circle cx="701.2" cy="630.1" r="7"/><circle cx="682.1" cy="547.4" r="7"/><circle cx="706.8" cy="369" r="7"/><circle cx="700.2" cy="452.9" r="7"/><circle cx="700.7" cy="494.3" r="7"/><circle cx="688.1" cy="423.9" r="7"/><circle cx="707.1" cy="543.4" r="7"/><circle cx="714.5" cy="417.1" r="7"/><circle cx="697.9" cy="462.3" r="7"/><circle cx="679" cy="615.5" r="7"/><circle cx="707" cy="469.4" r="7"/><circle cx="683.6" cy="348.2" r="7"/><circle cx="713.1" cy="494.3" r="7"/><circle cx="685.2" cy="434.8" r="7"/><circle cx="707.2" cy="370.9" r="7"/><circle cx="691.3" cy="476.7" r="7"/><circle cx="690.6" cy="571.4" r="7"/><circle cx="705.5" cy="603.7" r="7"/><circle cx="680.9" cy="446.2" r="7"/><circle cx="712.3" cy="497.2" r="7"/><circle cx="688.3" cy="390.4" r="7"/><circle cx="686.1" cy="456.2" r="7"/><circle cx="689.6" cy="558.4" r="7"/><circle cx="699.5" cy="632.2" r="7"/><circle cx="706.2" cy="592.9" r="7"/><circle cx="690.8" cy="578.4" r="7"/><circle cx="684.6" cy="472.5" r="7"/><circle cx="695.3" cy="534.4" r="7"/><circle cx="686.4" cy="501.9" r="7"/><circle cx="707.2" cy="597.4" r="7"/><circle cx="710.3" cy="591.1" r="7"/><circle cx="714.4" cy="327.7" r="7"/><circle cx="703.7" cy="350.6" r="7"/><circle cx="712.3" cy="348.3" r="7"/><circle cx="687.3" cy="627.6" r="7"/><circle cx="680.1" cy="568.7" r="7"/><circle cx="694.5" cy="478.5" r="7"/><circle cx="715" cy="352.9" r="7"/><circle cx="685.3" cy="362.6" r="7"/><circle cx="705.7" cy="535.2" r="7"/><circle cx="691.6" cy="477.2" r="7"/><circle cx="691.5" cy="475.8" r="7"/><circle cx="688.4" cy="405.7" r="7"/><circle cx="697.3" cy="341.6" r="7"/><circle cx="692" cy="448.2" r="7"/><circle cx="698.8" cy="525.1" r="7"/><circle cx="694" cy="445.4" r="7"/><circle cx="683.9" cy="441" r="7"/><circle cx="700.9" cy="633.5" r="7"/><circle cx="701.1" cy="610.9" r="7"/><circle cx="686" cy="438.4" r="7"/><circle cx="698.8" cy="421.9" r="7"/><circle cx="700.4" cy="588" r="7"/><circle cx="701.7" cy="632.4" r="7"/><circle cx="704.8" cy="553.4" r="7"/><circle cx="701.1" cy="443.6" r="7"/><circle cx="701.7" cy="532.6" r="7"/><circle cx="701.1" cy="490.5" r="7"/><circle cx="697.8" cy="468.6" r="7"/><circle cx="683.9" cy="469.7" r="7"/><circle cx="708.5" cy="484.5" r="7"/><circle cx="708.8" cy="394.9" r="7"/><circle cx="709" cy="464.5" r="7"/><circle cx="709.2" cy="333.6" r="7"/><circle cx="684.3" cy="576.8" r="7"/><circle cx="691.8" cy="399" r="7"/><circle cx="695.3" cy="572.2" r="7"/><circle cx="715.2" cy="347.6" r="7"/><circle cx="696.2" cy="538.2" r="7"/><circle cx="687.4" cy="435.2" r="7"/><circle cx="692.6" cy="436.4" r="7"/><circle cx="699.6" cy="325.6" r="7"/><circle cx="705" cy="338.1" r="7"/><circle cx="687.6" cy="406.2" r="7"/><circle cx="702" cy="581.9" r="7"/><circle cx="694.2" cy="589.7" r="7"/><circle cx="692.3" cy="568.8" r="7"/><circle cx="689.5" cy="435.3" r="7"/><circle cx="708.4" cy="448.1" r="7"/><circle cx="699.9" cy="430.6" r="7"/><circle cx="714.3" cy="610.4" r="7"/><circle cx="703.1" cy="543.5" r="7"/><circle cx="706.4" cy="423.4" r="7"/><circle cx="696.9" cy="439.1" r="7"/><circle cx="709.4" cy="465.2" r="7"/><circle cx="711.3" cy="450.3" r="7"/><circle cx="697.4" cy="458.1" r="7"/><circle cx="680.2" cy="552.5" r="7"/><circle cx="706.9" cy="533.5" r="7"/><circle cx="686.8" cy="561.7" r="7"/>
</g>
<g fill="#5d78ae">
<circle cx="1215.4" cy="171.5" r="7"/><circle cx="1240" cy="184.5" r="7"/><circle cx="1224.4" cy="208" r="7"/><circle cx="1221" cy="216.5" r="7"/><circle cx="1208.3" cy="223" r="7"/><circle cx="1219.6" cy="233" r="7"/><circle cx="1232.6" cy="253.9" r="7"/><circle cx="1229.5" cy="287.8" r="7"/><circle cx="1237.5" cy="293.8" r="7"/><circle cx="1213.1" cy="305.1" r="7"/><circle cx="1235.2" cy="318.4" r="7"/><circle cx="1239.4" cy="317" r="7"/><circle cx="1209.7" cy="319.3" r="7"/><circle cx="1216.2" cy="322.7" r="7"/><circle cx="1208.3" cy="342.5" r="7"/><circle cx="1216.8" cy="341.9" r="7"/><circle cx="1208.3" cy="349.5" r="7"/><circle cx="1224.4" cy="356.6" r="7"/><circle cx="1204.9" cy="370.8" r="7"/><circle cx="1216.8" cy="367.9" r="7"/><circle cx="1240.9" cy="373.6" r="7"/><circle cx="1211.1" cy="376.4" r="7"/><circle cx="1228.1" cy="376.4" r="7"/><circle cx="1232.4" cy="383.5" r="7"/><circle cx="1216.8" cy="385" r="7"/><circle cx="1204" cy="387.8" r="7"/><circle cx="1206.9" cy="372.8" r="7"/><circle cx="1222.5" cy="375.7" r="7"/><circle cx="1235.2" cy="382.7" r="7"/><circle cx="1204" cy="390.4" r="7"/><circle cx="1226.7" cy="399.7" r="7"/><circle cx="1212.5" cy="403.4" r="7"/><circle cx="1216.8" cy="412.5" r="7"/><circle cx="1235.2" cy="412.5" r="7"/><circle cx="1231" cy="425.2" r="7"/><circle cx="1213.4" cy="430.3" r="7"/><circle cx="1238" cy="437.9" r="7"/><circle cx="1221.9" cy="445.9" r="7"/><circle cx="1233.8" cy="449.3" r="7"/><circle cx="1238" cy="457.7" r="7"/><circle cx="1226.7" cy="462" r="7"/><circle cx="1209.7" cy="466.2" r="7"/><circle cx="1216.8" cy="473.3" r="7"/><circle cx="1233.2" cy="473.3" r="7"/><circle cx="1204.9" cy="492.3" r="7"/><circle cx="1215.4" cy="496" r="7"/><circle cx="1221" cy="497.4" r="7"/><circle cx="1211.7" cy="510.1" r="7"/><circle cx="1238.6" cy="515.8" r="7"/><circle cx="1209.7" cy="524.3" r="7"/><circle cx="1215.4" cy="527.1" r="7"/><circle cx="1238.6" cy="527.1" r="7"/><circle cx="1234.3" cy="568.1" r="7"/><circle cx="1204.9" cy="587.4" r="7"/><circle cx="1228" cy="405" r="7"/><circle cx="1232" cy="395" r="7"/><circle cx="1236" cy="430" r="7"/><circle cx="1230" cy="440" r="7"/><circle cx="1212" cy="480" r="7"/><circle cx="1218" cy="485" r="7"/>
</g>
<g fill="#8c9cbe">
<circle cx="1451.6" cy="194.8" r="7"/><circle cx="1464" cy="205.9" r="7"/><circle cx="1466.6" cy="216.3" r="7"/><circle cx="1470.5" cy="221.5" r="7"/><circle cx="1455.8" cy="239.6" r="7"/><circle cx="1470.5" cy="241.7" r="7"/><circle cx="1449.8" cy="246.1" r="7"/><circle cx="1452.4" cy="251.2" r="7"/><circle cx="1445.9" cy="263.4" r="7"/><circle cx="1460.2" cy="268.1" r="7"/><circle cx="1471.8" cy="270.7" r="7"/><circle cx="1467.9" cy="277.2" r="7"/><circle cx="1458.3" cy="287" r="7"/><circle cx="1443.3" cy="294" r="7"/><circle cx="1440.7" cy="299.7" r="7"/><circle cx="1473.1" cy="299.7" r="7"/><circle cx="1445.9" cy="307" r="7"/><circle cx="1458.9" cy="307" r="7"/><circle cx="1452.4" cy="310.8" r="7"/><circle cx="1474.4" cy="309.5" r="7"/><circle cx="1469.2" cy="321.2" r="7"/><circle cx="1467.9" cy="326.4" r="7"/><circle cx="1449.3" cy="328.2" r="7"/><circle cx="1444.6" cy="336.7" r="7"/><circle cx="1460.2" cy="341.9" r="7"/><circle cx="1475.7" cy="345.8" r="7"/><circle cx="1466.6" cy="347.1" r="7"/><circle cx="1445.4" cy="348.4" r="7"/><circle cx="1453.2" cy="359.5" r="7"/><circle cx="1468.7" cy="361.3" r="7"/><circle cx="1442" cy="374.3" r="7"/><circle cx="1458.9" cy="379.5" r="7"/><circle cx="1466.6" cy="382.1" r="7"/><circle cx="1453.7" cy="387.3" r="7"/><circle cx="1440.7" cy="396.3" r="7"/><circle cx="1471.8" cy="392.4" r="7"/><circle cx="1439.4" cy="470" r="7"/><circle cx="1453.7" cy="468.7" r="7"/><circle cx="1473.1" cy="459.6" r="7"/><circle cx="1475.7" cy="471.2" r="7"/><circle cx="1445.9" cy="480.3" r="7"/><circle cx="1474.4" cy="485.5" r="7"/><circle cx="1464" cy="488.1" r="7"/><circle cx="1444.6" cy="499.7" r="7"/><circle cx="1458.9" cy="503.6" r="7"/><circle cx="1473.1" cy="501" r="7"/><circle cx="1467.9" cy="514" r="7"/><circle cx="1444.6" cy="520.5" r="7"/><circle cx="1452.4" cy="521.8" r="7"/><circle cx="1458.9" cy="528.2" r="7"/><circle cx="1440.2" cy="542.5" r="7"/><circle cx="1455" cy="543.3" r="7"/><circle cx="1438.1" cy="550.3" r="7"/><circle cx="1447.2" cy="552.8" r="7"/><circle cx="1442" cy="556.7" r="7"/><circle cx="1458.9" cy="555.4" r="7"/><circle cx="1467.9" cy="555.4" r="7"/><circle cx="1460.2" cy="571" r="7"/><circle cx="1474.4" cy="585.2" r="7"/><circle cx="1462.2" cy="588.6" r="7"/><circle cx="1467.9" cy="599.5" r="7"/><circle cx="1444.1" cy="607.3" r="7"/><circle cx="1458" cy="478" r="7"/><circle cx="1466" cy="470" r="7"/><circle cx="1452" cy="492" r="7"/><circle cx="1470" cy="495" r="7"/><circle cx="1462" cy="512" r="7"/><circle cx="1450" cy="510" r="7"/><circle cx="1443.2" cy="393.9" r="7"/><circle cx="1459.8" cy="394.7" r="7"/><circle cx="1465.1" cy="392.2" r="7"/><circle cx="1464.4" cy="424.7" r="7"/><circle cx="1475.4" cy="419.8" r="7"/><circle cx="1444.7" cy="450.1" r="7"/><circle cx="1439.7" cy="413.4" r="7"/><circle cx="1448.9" cy="463.1" r="7"/><circle cx="1470.4" cy="411.8" r="7"/><circle cx="1454.6" cy="430.2" r="7"/><circle cx="1470.7" cy="391.9" r="7"/><circle cx="1448.8" cy="448.9" r="7"/><circle cx="1458.8" cy="403.4" r="7"/><circle cx="1457.1" cy="416.4" r="7"/><circle cx="1468.4" cy="432.4" r="7"/><circle cx="1450.8" cy="430.3" r="7"/><circle cx="1459.8" cy="428.5" r="7"/><circle cx="1468.2" cy="412.6" r="7"/><circle cx="1468.4" cy="410.2" r="7"/><circle cx="1473.2" cy="433" r="7"/><circle cx="1441.6" cy="421.8" r="7"/><circle cx="1441.3" cy="421" r="7"/><circle cx="1461" cy="453.6" r="7"/><circle cx="1457.4" cy="430.6" r="7"/><circle cx="1450.1" cy="439.2" r="7"/><circle cx="1444.7" cy="404" r="7"/><circle cx="1443.1" cy="457.8" r="7"/><circle cx="1473.7" cy="395.2" r="7"/><circle cx="1448.8" cy="419.5" r="7"/><circle cx="1445.1" cy="456.8" r="7"/><circle cx="1441" cy="392.3" r="7"/><circle cx="1447.9" cy="451.5" r="7"/><circle cx="1459.7" cy="432.2" r="7"/><circle cx="1445" cy="412.7" r="7"/><circle cx="1453.6" cy="448.8" r="7"/><circle cx="1462.6" cy="390.5" r="7"/><circle cx="1442.9" cy="405" r="7"/><circle cx="1455" cy="423.3" r="7"/><circle cx="1469.3" cy="439.6" r="7"/><circle cx="1458.4" cy="463.7" r="7"/><circle cx="1466.5" cy="410.1" r="7"/><circle cx="1442.8" cy="425.7" r="7"/><circle cx="1461" cy="424.8" r="7"/><circle cx="1444.5" cy="429.1" r="7"/><circle cx="1469.9" cy="408.6" r="7"/><circle cx="1474.3" cy="390.5" r="7"/><circle cx="1451.5" cy="437.9" r="7"/><circle cx="1466.2" cy="422.2" r="7"/><circle cx="1450.2" cy="401.6" r="7"/><circle cx="1442.9" cy="393.3" r="7"/><circle cx="1460.9" cy="429.9" r="7"/><circle cx="1458" cy="423.1" r="7"/><circle cx="1444.3" cy="395.4" r="7"/><circle cx="1453" cy="431.9" r="7"/><circle cx="1445.6" cy="438.4" r="7"/><circle cx="1469.8" cy="459.6" r="7"/><circle cx="1444.9" cy="454.4" r="7"/><circle cx="1458.8" cy="396.9" r="7"/><circle cx="1445.4" cy="396.9" r="7"/><circle cx="1452.7" cy="428.7" r="7"/><circle cx="1446.8" cy="403" r="7"/><circle cx="1470.9" cy="397.7" r="7"/><circle cx="1440" cy="426.1" r="7"/><circle cx="1468" cy="459.7" r="7"/><circle cx="1447.8" cy="431.4" r="7"/><circle cx="1449" cy="445" r="7"/><circle cx="1458.2" cy="390.3" r="7"/><circle cx="1442.5" cy="410.2" r="7"/><circle cx="1460.9" cy="432" r="7"/><circle cx="1441.7" cy="447.6" r="7"/><circle cx="1474.9" cy="406.7" r="7"/><circle cx="1464.4" cy="391.1" r="7"/><circle cx="1468.7" cy="449.9" r="7"/><circle cx="1439.9" cy="423.1" r="7"/><circle cx="1454.2" cy="459.5" r="7"/>
</g>
<g fill="#c8cbe0">
<circle cx="1706" cy="116.5" r="7"/><circle cx="1677" cy="150.8" r="7"/><circle cx="1683.4" cy="163.5" r="7"/><circle cx="1707" cy="160.6" r="7"/><circle cx="1703.6" cy="169.5" r="7"/><circle cx="1693" cy="173" r="7"/><circle cx="1681.7" cy="179" r="7"/><circle cx="1705.3" cy="182.5" r="7"/><circle cx="1703.6" cy="197.7" r="7"/><circle cx="1693" cy="203.7" r="7"/><circle cx="1712.4" cy="206.6" r="7"/><circle cx="1701.8" cy="211.9" r="7"/><circle cx="1696.5" cy="218.9" r="7"/><circle cx="1689.5" cy="226" r="7"/><circle cx="1678.9" cy="227.8" r="7"/><circle cx="1705.3" cy="236.6" r="7"/><circle cx="1675.3" cy="240.1" r="7"/><circle cx="1685.9" cy="245.4" r="7"/><circle cx="1708.9" cy="252.5" r="7"/><circle cx="1698" cy="168" r="7"/><circle cx="1688" cy="232" r="7"/><circle cx="1695" cy="242" r="7"/><circle cx="1700" cy="248" r="7"/><circle cx="1680" cy="250" r="7"/><circle cx="1704.8" cy="651.9" r="7"/><circle cx="1708.3" cy="655.4" r="7"/><circle cx="1698.4" cy="698.3" r="7"/><circle cx="1682.4" cy="631.9" r="7"/><circle cx="1690" cy="629" r="7"/><circle cx="1698" cy="627" r="7"/><circle cx="1705" cy="624" r="7"/><circle cx="1710.7" cy="621.3" r="7"/><circle cx="1686" cy="622" r="7"/><circle cx="1694" cy="618" r="7"/><circle cx="1701.9" cy="288" r="7"/><circle cx="1687.5" cy="503.1" r="7"/><circle cx="1682.9" cy="307.1" r="7"/><circle cx="1703.6" cy="430.6" r="7"/><circle cx="1697.9" cy="487.6" r="7"/><circle cx="1710.5" cy="383.1" r="7"/><circle cx="1679.8" cy="500.9" r="7"/><circle cx="1705.3" cy="470.9" r="7"/><circle cx="1679.1" cy="449.5" r="7"/><circle cx="1691.7" cy="340.5" r="7"/><circle cx="1708.4" cy="342.1" r="7"/><circle cx="1689.3" cy="505.5" r="7"/><circle cx="1678" cy="556.6" r="7"/><circle cx="1687.4" cy="493.5" r="7"/><circle cx="1704.1" cy="472.5" r="7"/><circle cx="1704.9" cy="262" r="7"/><circle cx="1691.7" cy="408.4" r="7"/><circle cx="1687.9" cy="378.1" r="7"/><circle cx="1684.8" cy="362.3" r="7"/><circle cx="1699.3" cy="511.2" r="7"/><circle cx="1700.1" cy="549.8" r="7"/><circle cx="1710.2" cy="323" r="7"/><circle cx="1707.7" cy="387.9" r="7"/><circle cx="1689.4" cy="478.1" r="7"/><circle cx="1693.5" cy="437.9" r="7"/><circle cx="1705.5" cy="615.8" r="7"/><circle cx="1674.8" cy="315" r="7"/><circle cx="1684.1" cy="421.5" r="7"/><circle cx="1695.2" cy="384.2" r="7"/><circle cx="1707.9" cy="393.1" r="7"/><circle cx="1697.9" cy="498.5" r="7"/><circle cx="1688.2" cy="417.7" r="7"/><circle cx="1688.7" cy="496.7" r="7"/><circle cx="1708.4" cy="446.1" r="7"/><circle cx="1710.9" cy="437.3" r="7"/><circle cx="1691.4" cy="504.8" r="7"/><circle cx="1676.1" cy="521.3" r="7"/><circle cx="1710.1" cy="374.4" r="7"/><circle cx="1696.5" cy="580.5" r="7"/><circle cx="1689.3" cy="465.9" r="7"/><circle cx="1685.2" cy="528" r="7"/><circle cx="1694.9" cy="533.5" r="7"/><circle cx="1698.8" cy="409.1" r="7"/><circle cx="1701.1" cy="394.5" r="7"/><circle cx="1680.8" cy="507.5" r="7"/><circle cx="1704.2" cy="465.4" r="7"/><circle cx="1693.9" cy="382.4" r="7"/><circle cx="1702.1" cy="575.4" r="7"/><circle cx="1676.8" cy="318.1" r="7"/><circle cx="1710.6" cy="364.3" r="7"/><circle cx="1686.2" cy="606.2" r="7"/><circle cx="1686.7" cy="599.5" r="7"/><circle cx="1684.4" cy="415.5" r="7"/><circle cx="1710.5" cy="399.4" r="7"/><circle cx="1708.4" cy="353.1" r="7"/><circle cx="1698.4" cy="419.9" r="7"/><circle cx="1680.4" cy="539.4" r="7"/><circle cx="1695.5" cy="531.6" r="7"/><circle cx="1685" cy="500.1" r="7"/><circle cx="1694.4" cy="388" r="7"/><circle cx="1684.4" cy="361" r="7"/><circle cx="1705.4" cy="536.8" r="7"/><circle cx="1709.6" cy="462.2" r="7"/><circle cx="1677.4" cy="352.6" r="7"/><circle cx="1699.9" cy="455.7" r="7"/><circle cx="1678.9" cy="406.2" r="7"/><circle cx="1710.6" cy="367.7" r="7"/><circle cx="1703.5" cy="486.7" r="7"/><circle cx="1702.3" cy="399.6" r="7"/><circle cx="1704.6" cy="380.4" r="7"/><circle cx="1707.1" cy="383.3" r="7"/><circle cx="1699.6" cy="449.6" r="7"/><circle cx="1687.3" cy="584.2" r="7"/><circle cx="1699.5" cy="438.8" r="7"/><circle cx="1696" cy="466.3" r="7"/><circle cx="1708" cy="530.5" r="7"/><circle cx="1700.9" cy="575.8" r="7"/><circle cx="1685" cy="512.2" r="7"/><circle cx="1682.7" cy="556" r="7"/><circle cx="1699.8" cy="337.5" r="7"/><circle cx="1677.5" cy="386.9" r="7"/><circle cx="1674.9" cy="561.2" r="7"/><circle cx="1685" cy="485" r="7"/><circle cx="1676.3" cy="458" r="7"/><circle cx="1683.1" cy="557.2" r="7"/><circle cx="1687" cy="485.1" r="7"/><circle cx="1704.2" cy="462.9" r="7"/><circle cx="1675.9" cy="550.4" r="7"/><circle cx="1693.5" cy="539.2" r="7"/><circle cx="1698.1" cy="410.3" r="7"/><circle cx="1689.6" cy="519.7" r="7"/><circle cx="1683.2" cy="442.4" r="7"/><circle cx="1700.1" cy="304.7" r="7"/><circle cx="1687.4" cy="513.9" r="7"/><circle cx="1685.3" cy="325.1" r="7"/><circle cx="1682.1" cy="443.9" r="7"/><circle cx="1684.6" cy="512.2" r="7"/><circle cx="1710.8" cy="459.9" r="7"/><circle cx="1682.4" cy="517.9" r="7"/><circle cx="1684.6" cy="518.8" r="7"/><circle cx="1698.2" cy="385.4" r="7"/><circle cx="1687.9" cy="272.1" r="7"/><circle cx="1678.7" cy="421.6" r="7"/><circle cx="1679.5" cy="429.4" r="7"/><circle cx="1684.1" cy="440.9" r="7"/><circle cx="1704.8" cy="522.6" r="7"/><circle cx="1675.3" cy="562.3" r="7"/><circle cx="1688.8" cy="333.9" r="7"/><circle cx="1676.4" cy="542.1" r="7"/><circle cx="1697.9" cy="281.8" r="7"/><circle cx="1683.8" cy="488.8" r="7"/><circle cx="1691.7" cy="302" r="7"/><circle cx="1701" cy="469.1" r="7"/><circle cx="1701.6" cy="416" r="7"/><circle cx="1701.2" cy="401.7" r="7"/><circle cx="1700.4" cy="343.3" r="7"/><circle cx="1708.4" cy="427.7" r="7"/><circle cx="1683.6" cy="474.1" r="7"/><circle cx="1705.3" cy="398.8" r="7"/><circle cx="1676.2" cy="486.7" r="7"/><circle cx="1676.6" cy="548.2" r="7"/><circle cx="1680.5" cy="590.6" r="7"/><circle cx="1704.7" cy="514.4" r="7"/><circle cx="1678.7" cy="315.3" r="7"/><circle cx="1706.3" cy="589.6" r="7"/><circle cx="1693.4" cy="458.3" r="7"/><circle cx="1704.4" cy="481.6" r="7"/><circle cx="1695" cy="284.3" r="7"/><circle cx="1675.1" cy="361.9" r="7"/><circle cx="1705.5" cy="527.2" r="7"/><circle cx="1679.3" cy="551.4" r="7"/><circle cx="1690.7" cy="492.6" r="7"/><circle cx="1678.3" cy="454.8" r="7"/><circle cx="1688.4" cy="564.8" r="7"/><circle cx="1680.3" cy="366.2" r="7"/><circle cx="1677.6" cy="535.8" r="7"/><circle cx="1691.7" cy="474" r="7"/><circle cx="1698.8" cy="404.3" r="7"/><circle cx="1707.3" cy="565.4" r="7"/><circle cx="1684.1" cy="416.8" r="7"/><circle cx="1686.8" cy="365.4" r="7"/><circle cx="1711.1" cy="290.5" r="7"/><circle cx="1690.1" cy="355.8" r="7"/><circle cx="1707.6" cy="263.6" r="7"/><circle cx="1703.3" cy="591.2" r="7"/><circle cx="1678.7" cy="545.2" r="7"/><circle cx="1698" cy="556.5" r="7"/><circle cx="1710.5" cy="389.6" r="7"/><circle cx="1698.8" cy="314.6" r="7"/><circle cx="1689.9" cy="452" r="7"/><circle cx="1682.7" cy="608.1" r="7"/><circle cx="1701.3" cy="261" r="7"/><circle cx="1691" cy="616.3" r="7"/><circle cx="1702.4" cy="506" r="7"/><circle cx="1684.3" cy="530.1" r="7"/><circle cx="1710.5" cy="332.2" r="7"/><circle cx="1699.1" cy="490.2" r="7"/><circle cx="1686" cy="473.6" r="7"/><circle cx="1675.3" cy="279.3" r="7"/><circle cx="1679" cy="387.6" r="7"/><circle cx="1700.2" cy="435.7" r="7"/><circle cx="1686" cy="320.8" r="7"/><circle cx="1691.3" cy="404.9" r="7"/><circle cx="1709.3" cy="521.1" r="7"/><circle cx="1675.9" cy="380.6" r="7"/><circle cx="1706.4" cy="557.7" r="7"/><circle cx="1681.8" cy="357.1" r="7"/><circle cx="1699.2" cy="585.4" r="7"/><circle cx="1681.5" cy="469.7" r="7"/><circle cx="1711.2" cy="308.3" r="7"/><circle cx="1695.9" cy="395.4" r="7"/><circle cx="1675.3" cy="337.3" r="7"/><circle cx="1710.4" cy="566.3" r="7"/><circle cx="1679.9" cy="388.4" r="7"/><circle cx="1688.4" cy="542.8" r="7"/><circle cx="1684" cy="446.4" r="7"/><circle cx="1688.9" cy="545.7" r="7"/><circle cx="1682" cy="534.4" r="7"/><circle cx="1688.3" cy="335.7" r="7"/><circle cx="1707" cy="489.5" r="7"/><circle cx="1675.9" cy="560.5" r="7"/><circle cx="1691.8" cy="415.6" r="7"/><circle cx="1679.2" cy="515" r="7"/><circle cx="1683.3" cy="430.5" r="7"/><circle cx="1677.3" cy="416.3" r="7"/><circle cx="1709.5" cy="387.5" r="7"/><circle cx="1683" cy="457.9" r="7"/><circle cx="1707" cy="526.9" r="7"/><circle cx="1681.1" cy="447" r="7"/><circle cx="1677.9" cy="570.7" r="7"/><circle cx="1677.6" cy="423.8" r="7"/><circle cx="1682.4" cy="420.9" r="7"/><circle cx="1679.2" cy="497.3" r="7"/><circle cx="1699" cy="321.5" r="7"/><circle cx="1692.2" cy="443.3" r="7"/><circle cx="1683.5" cy="525.5" r="7"/><circle cx="1698.9" cy="437.6" r="7"/><circle cx="1708.2" cy="568.1" r="7"/><circle cx="1696.9" cy="322.1" r="7"/><circle cx="1682.8" cy="584.2" r="7"/><circle cx="1702.5" cy="307.1" r="7"/><circle cx="1689.7" cy="468.3" r="7"/><circle cx="1709.9" cy="503.2" r="7"/><circle cx="1693.7" cy="340.8" r="7"/><circle cx="1710.4" cy="422.2" r="7"/><circle cx="1687.5" cy="373.1" r="7"/><circle cx="1688.6" cy="499.4" r="7"/><circle cx="1695.6" cy="349.9" r="7"/><circle cx="1683.7" cy="515.1" r="7"/><circle cx="1694.1" cy="310.3" r="7"/><circle cx="1676.9" cy="467.6" r="7"/><circle cx="1696.5" cy="341.3" r="7"/><circle cx="1707.7" cy="420.7" r="7"/><circle cx="1710.2" cy="496.9" r="7"/><circle cx="1708.6" cy="404.4" r="7"/><circle cx="1685.5" cy="293.9" r="7"/><circle cx="1694.4" cy="572.8" r="7"/><circle cx="1679.1" cy="493.8" r="7"/><circle cx="1696.5" cy="344.7" r="7"/><circle cx="1677.6" cy="606.3" r="7"/><circle cx="1688.4" cy="349.1" r="7"/><circle cx="1677.5" cy="446.7" r="7"/><circle cx="1692.3" cy="525.8" r="7"/><circle cx="1675.2" cy="500.6" r="7"/><circle cx="1701" cy="429" r="7"/><circle cx="1710.3" cy="491.7" r="7"/><circle cx="1690.7" cy="542" r="7"/><circle cx="1689.9" cy="604.7" r="7"/><circle cx="1703.2" cy="386.9" r="7"/><circle cx="1682.8" cy="302.4" r="7"/><circle cx="1679.8" cy="352.8" r="7"/><circle cx="1677.7" cy="403.8" r="7"/><circle cx="1696.1" cy="468" r="7"/><circle cx="1691" cy="385.5" r="7"/><circle cx="1675.5" cy="319.9" r="7"/><circle cx="1688.5" cy="502.1" r="7"/><circle cx="1710.6" cy="487" r="7"/><circle cx="1705.2" cy="365.5" r="7"/><circle cx="1707.2" cy="474.8" r="7"/><circle cx="1675.4" cy="470.3" r="7"/><circle cx="1684.9" cy="450.7" r="7"/><circle cx="1681.2" cy="281.5" r="7"/><circle cx="1683.3" cy="509.3" r="7"/><circle cx="1711.3" cy="352.5" r="7"/><circle cx="1709.4" cy="263" r="7"/><circle cx="1687.2" cy="609.1" r="7"/><circle cx="1690.2" cy="446.1" r="7"/><circle cx="1676.8" cy="430.3" r="7"/><circle cx="1678.2" cy="286.5" r="7"/><circle cx="1684.5" cy="483.2" r="7"/><circle cx="1681.8" cy="380.4" r="7"/><circle cx="1700.4" cy="274.7" r="7"/><circle cx="1683.3" cy="396.2" r="7"/><circle cx="1699.3" cy="340.2" r="7"/><circle cx="1681.9" cy="461.7" r="7"/><circle cx="1698.3" cy="468" r="7"/><circle cx="1690.5" cy="343.7" r="7"/><circle cx="1675.9" cy="450.1" r="7"/><circle cx="1685.6" cy="519.7" r="7"/><circle cx="1697.5" cy="488.9" r="7"/><circle cx="1686.3" cy="584.3" r="7"/><circle cx="1680.6" cy="497.2" r="7"/><circle cx="1701.5" cy="368.7" r="7"/><circle cx="1693.8" cy="288.4" r="7"/><circle cx="1693.6" cy="328" r="7"/><circle cx="1701.3" cy="445.8" r="7"/><circle cx="1678.7" cy="448.7" r="7"/><circle cx="1692.7" cy="281.5" r="7"/><circle cx="1683" cy="347.9" r="7"/><circle cx="1701.2" cy="371.8" r="7"/><circle cx="1691.3" cy="536.4" r="7"/><circle cx="1691.7" cy="481.2" r="7"/><circle cx="1676.2" cy="487.8" r="7"/><circle cx="1697.7" cy="302.9" r="7"/><circle cx="1702.6" cy="365.2" r="7"/><circle cx="1678" cy="536.6" r="7"/><circle cx="1710.5" cy="399.4" r="7"/><circle cx="1703.2" cy="274.6" r="7"/><circle cx="1677.4" cy="305.2" r="7"/><circle cx="1705.6" cy="315.7" r="7"/><circle cx="1703.1" cy="317.6" r="7"/><circle cx="1679.4" cy="411" r="7"/><circle cx="1702.2" cy="298.6" r="7"/><circle cx="1697.1" cy="428.1" r="7"/><circle cx="1701.3" cy="361.1" r="7"/><circle cx="1682" cy="523.2" r="7"/><circle cx="1704.9" cy="604.8" r="7"/><circle cx="1684.2" cy="379.3" r="7"/><circle cx="1680.3" cy="426.8" r="7"/><circle cx="1681.2" cy="567" r="7"/><circle cx="1681.7" cy="527.1" r="7"/><circle cx="1706.7" cy="408.3" r="7"/><circle cx="1703" cy="465.3" r="7"/><circle cx="1710" cy="476.8" r="7"/><circle cx="1705.1" cy="375.1" r="7"/><circle cx="1688.7" cy="352.8" r="7"/><circle cx="1678.9" cy="384.4" r="7"/><circle cx="1707.6" cy="405.4" r="7"/><circle cx="1708.8" cy="531" r="7"/><circle cx="1704.9" cy="521" r="7"/><circle cx="1688.9" cy="348.2" r="7"/><circle cx="1694.7" cy="561.7" r="7"/><circle cx="1687.6" cy="378.5" r="7"/><circle cx="1709.5" cy="575.9" r="7"/><circle cx="1698.9" cy="526.9" r="7"/><circle cx="1687.4" cy="455.4" r="7"/><circle cx="1687.4" cy="572.6" r="7"/><circle cx="1686.9" cy="346.8" r="7"/><circle cx="1677.3" cy="338.7" r="7"/><circle cx="1691.9" cy="525.8" r="7"/><circle cx="1710.1" cy="402.3" r="7"/><circle cx="1707.9" cy="368.8" r="7"/><circle cx="1701.9" cy="427.3" r="7"/><circle cx="1696.5" cy="464.7" r="7"/><circle cx="1707.4" cy="432.2" r="7"/><circle cx="1688.2" cy="498.3" r="7"/><circle cx="1708.6" cy="509.3" r="7"/><circle cx="1690.7" cy="413.4" r="7"/><circle cx="1702.4" cy="385.8" r="7"/><circle cx="1707.5" cy="547.8" r="7"/><circle cx="1709.2" cy="394.5" r="7"/><circle cx="1687" cy="329.4" r="7"/><circle cx="1695" cy="522.5" r="7"/><circle cx="1680.1" cy="438.1" r="7"/><circle cx="1681.6" cy="460.2" r="7"/><circle cx="1682.5" cy="387.7" r="7"/><circle cx="1697.1" cy="548.4" r="7"/><circle cx="1690.4" cy="350.3" r="7"/><circle cx="1678.2" cy="442.8" r="7"/><circle cx="1701.3" cy="258.1" r="7"/><circle cx="1684.3" cy="528.4" r="7"/><circle cx="1697.1" cy="444.1" r="7"/><circle cx="1696.5" cy="585.1" r="7"/><circle cx="1701.1" cy="518.4" r="7"/><circle cx="1705.8" cy="514.6" r="7"/><circle cx="1709.7" cy="592.7" r="7"/><circle cx="1677.4" cy="417.1" r="7"/><circle cx="1698.4" cy="307.7" r="7"/><circle cx="1682.2" cy="535" r="7"/><circle cx="1697.7" cy="314.7" r="7"/><circle cx="1682.9" cy="366.4" r="7"/><circle cx="1686.5" cy="286.9" r="7"/><circle cx="1692.5" cy="439.7" r="7"/><circle cx="1692.8" cy="416.1" r="7"/><circle cx="1680.2" cy="328.1" r="7"/><circle cx="1700.7" cy="317.6" r="7"/><circle cx="1687.8" cy="384.9" r="7"/><circle cx="1680.4" cy="507.4" r="7"/><circle cx="1698.1" cy="521.2" r="7"/><circle cx="1695.3" cy="413.5" r="7"/><circle cx="1709.9" cy="497.2" r="7"/><circle cx="1706.3" cy="308.9" r="7"/><circle cx="1699.9" cy="543.9" r="7"/><circle cx="1681.5" cy="456" r="7"/><circle cx="1686.8" cy="547.4" r="7"/><circle cx="1688.2" cy="430.6" r="7"/><circle cx="1694.5" cy="581.8" r="7"/><circle cx="1689.1" cy="429.6" r="7"/><circle cx="1684.4" cy="477.7" r="7"/><circle cx="1688.2" cy="390.9" r="7"/><circle cx="1705.2" cy="356.4" r="7"/><circle cx="1677" cy="263.9" r="7"/><circle cx="1683.2" cy="549.2" r="7"/><circle cx="1701.9" cy="277" r="7"/><circle cx="1709" cy="591.6" r="7"/><circle cx="1702.5" cy="414" r="7"/><circle cx="1678.2" cy="568.5" r="7"/><circle cx="1679.4" cy="269.9" r="7"/><circle cx="1680.8" cy="485.4" r="7"/><circle cx="1684.2" cy="414.1" r="7"/><circle cx="1680.4" cy="319.7" r="7"/><circle cx="1677" cy="383.8" r="7"/><circle cx="1676" cy="449" r="7"/><circle cx="1696.1" cy="416" r="7"/><circle cx="1697" cy="420.4" r="7"/><circle cx="1709.7" cy="378.7" r="7"/><circle cx="1681.3" cy="460.1" r="7"/><circle cx="1675" cy="395.5" r="7"/><circle cx="1704.3" cy="443.4" r="7"/><circle cx="1695.9" cy="406.7" r="7"/><circle cx="1710.3" cy="521.1" r="7"/><circle cx="1688.7" cy="479.9" r="7"/><circle cx="1702.8" cy="506.4" r="7"/><circle cx="1680.7" cy="351.5" r="7"/><circle cx="1703" cy="531.5" r="7"/><circle cx="1696.5" cy="464.7" r="7"/><circle cx="1678" cy="411.5" r="7"/><circle cx="1685" cy="538.9" r="7"/><circle cx="1684.3" cy="416.8" r="7"/><circle cx="1678.4" cy="521.8" r="7"/><circle cx="1682.7" cy="435.8" r="7"/><circle cx="1688.5" cy="494.2" r="7"/><circle cx="1702.9" cy="464.1" r="7"/><circle cx="1689.6" cy="422.1" r="7"/><circle cx="1679.7" cy="452.9" r="7"/><circle cx="1684" cy="487.8" r="7"/><circle cx="1692.5" cy="552.6" r="7"/><circle cx="1692" cy="581.1" r="7"/><circle cx="1701.8" cy="426.7" r="7"/><circle cx="1704.9" cy="323.5" r="7"/><circle cx="1693.3" cy="299.7" r="7"/><circle cx="1709.2" cy="378.4" r="7"/><circle cx="1684.1" cy="428.5" r="7"/><circle cx="1708.3" cy="588.2" r="7"/><circle cx="1694.5" cy="536.7" r="7"/><circle cx="1678.4" cy="567.2" r="7"/><circle cx="1683.4" cy="504.2" r="7"/><circle cx="1710.4" cy="424.7" r="7"/><circle cx="1700.1" cy="592.1" r="7"/><circle cx="1681" cy="457.7" r="7"/><circle cx="1693" cy="305.9" r="7"/><circle cx="1695.3" cy="353.5" r="7"/><circle cx="1680.8" cy="533.3" r="7"/><circle cx="1710.3" cy="578.5" r="7"/><circle cx="1696.3" cy="613.3" r="7"/><circle cx="1675.9" cy="455.3" r="7"/><circle cx="1685.3" cy="330.5" r="7"/><circle cx="1709.9" cy="485.1" r="7"/><circle cx="1709.9" cy="505.5" r="7"/><circle cx="1706.7" cy="486.8" r="7"/><circle cx="1697.2" cy="499.8" r="7"/><circle cx="1695.3" cy="279.4" r="7"/><circle cx="1679.2" cy="330.9" r="7"/><circle cx="1676.6" cy="515.6" r="7"/><circle cx="1686.4" cy="411.3" r="7"/><circle cx="1690.2" cy="462.9" r="7"/><circle cx="1682.3" cy="556.1" r="7"/><circle cx="1710.6" cy="443.7" r="7"/><circle cx="1677.3" cy="403.4" r="7"/><circle cx="1688.3" cy="354.4" r="7"/><circle cx="1680.8" cy="482.9" r="7"/><circle cx="1688.1" cy="520.3" r="7"/><circle cx="1680" cy="583.6" r="7"/><circle cx="1696.6" cy="313.6" r="7"/><circle cx="1693.4" cy="547.5" r="7"/><circle cx="1690.1" cy="465.1" r="7"/><circle cx="1676.9" cy="453.9" r="7"/><circle cx="1702.8" cy="409.8" r="7"/><circle cx="1692.5" cy="343.9" r="7"/><circle cx="1703.1" cy="397.1" r="7"/><circle cx="1693.4" cy="559.8" r="7"/><circle cx="1677.8" cy="321.9" r="7"/><circle cx="1698.8" cy="376.7" r="7"/><circle cx="1693.8" cy="410.2" r="7"/><circle cx="1680.5" cy="596.9" r="7"/><circle cx="1708.5" cy="367.1" r="7"/><circle cx="1680.9" cy="513.1" r="7"/><circle cx="1706.2" cy="272.5" r="7"/><circle cx="1697.9" cy="491.9" r="7"/><circle cx="1702.3" cy="378.1" r="7"/><circle cx="1681" cy="516.9" r="7"/><circle cx="1699.3" cy="499.7" r="7"/><circle cx="1689.5" cy="257.3" r="7"/><circle cx="1700.2" cy="328.2" r="7"/><circle cx="1683" cy="352.9" r="7"/><circle cx="1690.7" cy="401.9" r="7"/><circle cx="1694.9" cy="312.7" r="7"/><circle cx="1699.6" cy="433.8" r="7"/><circle cx="1685.6" cy="436.4" r="7"/><circle cx="1692.7" cy="428.4" r="7"/><circle cx="1710.9" cy="509.9" r="7"/><circle cx="1686.7" cy="547.5" r="7"/><circle cx="1700.5" cy="519.2" r="7"/><circle cx="1685" cy="389.5" r="7"/><circle cx="1701.7" cy="257.3" r="7"/><circle cx="1688.9" cy="516.9" r="7"/><circle cx="1676.4" cy="500.4" r="7"/><circle cx="1711.7" cy="384.7" r="7"/><circle cx="1694" cy="462" r="7"/><circle cx="1688.6" cy="431.8" r="7"/><circle cx="1683" cy="441.8" r="7"/><circle cx="1693.4" cy="357" r="7"/><circle cx="1681.7" cy="408.4" r="7"/><circle cx="1703.3" cy="449.6" r="7"/><circle cx="1693.9" cy="512.1" r="7"/><circle cx="1685.5" cy="441.9" r="7"/><circle cx="1705.1" cy="402.3" r="7"/><circle cx="1682.7" cy="431.7" r="7"/><circle cx="1686.1" cy="420.5" r="7"/><circle cx="1701.9" cy="386.8" r="7"/><circle cx="1703.8" cy="331.5" r="7"/><circle cx="1698.3" cy="494.3" r="7"/><circle cx="1677.1" cy="508.4" r="7"/><circle cx="1710.4" cy="387.3" r="7"/><circle cx="1710.6" cy="447" r="7"/><circle cx="1687.3" cy="548.8" r="7"/><circle cx="1688.5" cy="524.3" r="7"/><circle cx="1701.1" cy="354.2" r="7"/><circle cx="1710.8" cy="409.3" r="7"/><circle cx="1685.2" cy="322.7" r="7"/><circle cx="1707.8" cy="376.7" r="7"/><circle cx="1703.4" cy="411.5" r="7"/><circle cx="1708.2" cy="392.4" r="7"/><circle cx="1696.8" cy="416" r="7"/><circle cx="1689.2" cy="348.9" r="7"/><circle cx="1688.6" cy="394.1" r="7"/><circle cx="1699.9" cy="533.1" r="7"/><circle cx="1675.6" cy="483.3" r="7"/><circle cx="1685.7" cy="501.5" r="7"/><circle cx="1696.5" cy="587" r="7"/><circle cx="1676.1" cy="465.2" r="7"/><circle cx="1697.1" cy="374.4" r="7"/><circle cx="1682.7" cy="441.7" r="7"/><circle cx="1688.2" cy="369.3" r="7"/><circle cx="1711.3" cy="584.4" r="7"/><circle cx="1688.8" cy="344.7" r="7"/><circle cx="1703.5" cy="551" r="7"/><circle cx="1676.8" cy="430.4" r="7"/><circle cx="1697.9" cy="394.4" r="7"/><circle cx="1704.4" cy="455.6" r="7"/><circle cx="1702.6" cy="294.1" r="7"/><circle cx="1678.2" cy="416.3" r="7"/><circle cx="1674.9" cy="424.1" r="7"/><circle cx="1688.5" cy="290" r="7"/><circle cx="1685.5" cy="413.5" r="7"/><circle cx="1711.1" cy="511.5" r="7"/><circle cx="1693.1" cy="317.6" r="7"/><circle cx="1682.6" cy="391.3" r="7"/><circle cx="1687.2" cy="575.4" r="7"/><circle cx="1685.3" cy="479.8" r="7"/><circle cx="1699.1" cy="390.5" r="7"/><circle cx="1687" cy="449.6" r="7"/><circle cx="1690.2" cy="563.6" r="7"/><circle cx="1699.3" cy="402.3" r="7"/><circle cx="1689.8" cy="498" r="7"/><circle cx="1688.7" cy="422.4" r="7"/><circle cx="1682.9" cy="523" r="7"/><circle cx="1692.3" cy="502" r="7"/><circle cx="1698.7" cy="327.9" r="7"/><circle cx="1698.6" cy="508.6" r="7"/><circle cx="1686.4" cy="318.5" r="7"/><circle cx="1692.7" cy="456.4" r="7"/><circle cx="1686.2" cy="480.4" r="7"/><circle cx="1697.6" cy="503" r="7"/><circle cx="1683" cy="539.9" r="7"/><circle cx="1695.8" cy="417.1" r="7"/><circle cx="1691.4" cy="530.1" r="7"/><circle cx="1697.4" cy="493.6" r="7"/><circle cx="1707.7" cy="445.5" r="7"/><circle cx="1700.3" cy="416.2" r="7"/><circle cx="1682.3" cy="449.9" r="7"/><circle cx="1675.8" cy="583.1" r="7"/><circle cx="1677.5" cy="378.5" r="7"/><circle cx="1680.7" cy="483.2" r="7"/><circle cx="1708.8" cy="362.5" r="7"/><circle cx="1709.1" cy="545.7" r="7"/><circle cx="1709" cy="338.9" r="7"/><circle cx="1706.7" cy="457" r="7"/><circle cx="1691.7" cy="424.9" r="7"/><circle cx="1705.6" cy="358.3" r="7"/><circle cx="1689.5" cy="346.2" r="7"/><circle cx="1710.1" cy="337.6" r="7"/><circle cx="1693.3" cy="390" r="7"/><circle cx="1687.7" cy="385.9" r="7"/><circle cx="1689.8" cy="522.5" r="7"/><circle cx="1708.8" cy="447" r="7"/><circle cx="1703.9" cy="427.7" r="7"/><circle cx="1678.3" cy="384.6" r="7"/><circle cx="1692.6" cy="356.5" r="7"/><circle cx="1682.9" cy="393.2" r="7"/><circle cx="1704.4" cy="415.2" r="7"/><circle cx="1698" cy="457" r="7"/><circle cx="1699.7" cy="552.7" r="7"/><circle cx="1678.5" cy="602.8" r="7"/><circle cx="1680.3" cy="405.9" r="7"/><circle cx="1681.6" cy="397.2" r="7"/><circle cx="1692.4" cy="466.2" r="7"/><circle cx="1693.4" cy="451.7" r="7"/><circle cx="1709.2" cy="560.6" r="7"/><circle cx="1703.2" cy="328.5" r="7"/><circle cx="1682.9" cy="463.5" r="7"/><circle cx="1701.7" cy="540.3" r="7"/><circle cx="1698.8" cy="339.1" r="7"/><circle cx="1677.2" cy="391.3" r="7"/><circle cx="1680.5" cy="490.2" r="7"/><circle cx="1678.5" cy="456.4" r="7"/><circle cx="1677.9" cy="274.4" r="7"/><circle cx="1692.9" cy="348" r="7"/><circle cx="1691.9" cy="347.1" r="7"/><circle cx="1701.5" cy="391.2" r="7"/><circle cx="1675.1" cy="297.5" r="7"/><circle cx="1700.6" cy="375.9" r="7"/><circle cx="1702.8" cy="332.1" r="7"/><circle cx="1689.3" cy="405.9" r="7"/><circle cx="1709.9" cy="369.7" r="7"/><circle cx="1691" cy="442.4" r="7"/><circle cx="1689.8" cy="429.3" r="7"/><circle cx="1691.9" cy="496.6" r="7"/><circle cx="1695.4" cy="465.2" r="7"/><circle cx="1688.5" cy="570.8" r="7"/><circle cx="1692.2" cy="486.1" r="7"/><circle cx="1701.2" cy="303.7" r="7"/><circle cx="1698.6" cy="521.1" r="7"/><circle cx="1675.6" cy="495.1" r="7"/><circle cx="1696.9" cy="416.8" r="7"/><circle cx="1699.6" cy="378.6" r="7"/><circle cx="1704.7" cy="367.3" r="7"/><circle cx="1689.4" cy="390.2" r="7"/><circle cx="1679.3" cy="438.5" r="7"/><circle cx="1710.6" cy="446.3" r="7"/><circle cx="1683.2" cy="395.4" r="7"/><circle cx="1689.3" cy="491.2" r="7"/><circle cx="1678.9" cy="530.9" r="7"/><circle cx="1691.1" cy="574.1" r="7"/><circle cx="1680.4" cy="533.7" r="7"/><circle cx="1709.5" cy="445" r="7"/><circle cx="1695.6" cy="582.6" r="7"/><circle cx="1691.2" cy="407.5" r="7"/><circle cx="1696.5" cy="589.3" r="7"/><circle cx="1709" cy="514.6" r="7"/><circle cx="1701.3" cy="295.7" r="7"/><circle cx="1675.4" cy="302.1" r="7"/><circle cx="1677.8" cy="311" r="7"/><circle cx="1694" cy="289" r="7"/><circle cx="1683.7" cy="407.7" r="7"/><circle cx="1702.3" cy="561.6" r="7"/><circle cx="1706.7" cy="404.6" r="7"/><circle cx="1700.5" cy="292.6" r="7"/><circle cx="1685.1" cy="469.9" r="7"/><circle cx="1691" cy="436.9" r="7"/><circle cx="1685.9" cy="358.5" r="7"/><circle cx="1678" cy="356" r="7"/><circle cx="1683.3" cy="547.6" r="7"/><circle cx="1688.6" cy="439.4" r="7"/><circle cx="1684.9" cy="406.1" r="7"/><circle cx="1711.7" cy="478.7" r="7"/><circle cx="1695.4" cy="491.8" r="7"/><circle cx="1697.6" cy="319.9" r="7"/><circle cx="1701.2" cy="326.6" r="7"/><circle cx="1676.4" cy="492.4" r="7"/><circle cx="1688.7" cy="398.3" r="7"/><circle cx="1698.9" cy="509.4" r="7"/><circle cx="1693.9" cy="402.5" r="7"/><circle cx="1702.3" cy="561.4" r="7"/><circle cx="1688.4" cy="429" r="7"/><circle cx="1695.8" cy="318" r="7"/><circle cx="1678.6" cy="333.2" r="7"/><circle cx="1686" cy="375.8" r="7"/><circle cx="1675.2" cy="353.4" r="7"/><circle cx="1675.3" cy="414.5" r="7"/><circle cx="1674.8" cy="569.6" r="7"/><circle cx="1684.2" cy="605.6" r="7"/><circle cx="1701.1" cy="264.8" r="7"/><circle cx="1683.9" cy="467.8" r="7"/><circle cx="1706.2" cy="578.8" r="7"/><circle cx="1680.5" cy="456.1" r="7"/><circle cx="1689.6" cy="452.5" r="7"/><circle cx="1698" cy="464.6" r="7"/><circle cx="1704.9" cy="474.1" r="7"/><circle cx="1709.1" cy="462.3" r="7"/><circle cx="1687.1" cy="391.1" r="7"/><circle cx="1709.5" cy="491" r="7"/><circle cx="1691.9" cy="539.1" r="7"/><circle cx="1678.9" cy="532.5" r="7"/><circle cx="1684" cy="481.6" r="7"/><circle cx="1679.5" cy="504.9" r="7"/><circle cx="1687.2" cy="305.4" r="7"/><circle cx="1698.2" cy="418.2" r="7"/><circle cx="1691.5" cy="319.5" r="7"/><circle cx="1690.1" cy="406" r="7"/><circle cx="1686.1" cy="469.4" r="7"/><circle cx="1698.7" cy="434.9" r="7"/><circle cx="1697.3" cy="440" r="7"/><circle cx="1687.2" cy="618.7" r="7"/><circle cx="1676.9" cy="260.4" r="7"/><circle cx="1700.6" cy="409.9" r="7"/><circle cx="1675.3" cy="469.3" r="7"/><circle cx="1697.8" cy="395.6" r="7"/><circle cx="1689.8" cy="392.7" r="7"/><circle cx="1707.3" cy="532.1" r="7"/><circle cx="1708.8" cy="498.1" r="7"/><circle cx="1688.8" cy="346.1" r="7"/><circle cx="1697.6" cy="363.7" r="7"/><circle cx="1709.1" cy="376.8" r="7"/><circle cx="1695.7" cy="462.3" r="7"/><circle cx="1691.8" cy="617.2" r="7"/><circle cx="1710.6" cy="457" r="7"/><circle cx="1698.3" cy="482.9" r="7"/><circle cx="1709.8" cy="450.2" r="7"/><circle cx="1707.2" cy="261.1" r="7"/><circle cx="1688.9" cy="547.3" r="7"/><circle cx="1686.8" cy="448.5" r="7"/><circle cx="1703.6" cy="469.6" r="7"/><circle cx="1693.9" cy="602.4" r="7"/><circle cx="1704.5" cy="396.4" r="7"/><circle cx="1703.4" cy="319.7" r="7"/><circle cx="1684.8" cy="596.5" r="7"/><circle cx="1680.8" cy="435.5" r="7"/><circle cx="1695.1" cy="562.1" r="7"/><circle cx="1687" cy="593.8" r="7"/><circle cx="1686" cy="312.7" r="7"/><circle cx="1679.3" cy="511.1" r="7"/><circle cx="1680.1" cy="547.7" r="7"/><circle cx="1674.8" cy="551" r="7"/><circle cx="1705.6" cy="537.4" r="7"/><circle cx="1700.1" cy="370.1" r="7"/><circle cx="1694.9" cy="356.3" r="7"/><circle cx="1700.6" cy="579.7" r="7"/><circle cx="1703.6" cy="501" r="7"/><circle cx="1678.4" cy="534.9" r="7"/><circle cx="1680.7" cy="425.9" r="7"/><circle cx="1707.4" cy="294.8" r="7"/><circle cx="1702.7" cy="314.9" r="7"/><circle cx="1699.4" cy="286.4" r="7"/><circle cx="1691.4" cy="574" r="7"/><circle cx="1683.8" cy="267.3" r="7"/><circle cx="1700.7" cy="541.5" r="7"/><circle cx="1685.6" cy="302.3" r="7"/><circle cx="1682.7" cy="358.7" r="7"/><circle cx="1706.8" cy="374.4" r="7"/><circle cx="1688.9" cy="488.4" r="7"/><circle cx="1706.7" cy="419.7" r="7"/><circle cx="1678.6" cy="349.3" r="7"/><circle cx="1680.6" cy="438.7" r="7"/><circle cx="1692.6" cy="413.4" r="7"/><circle cx="1707.8" cy="395.2" r="7"/><circle cx="1698.4" cy="392.9" r="7"/><circle cx="1693.9" cy="496.3" r="7"/><circle cx="1692.1" cy="360.7" r="7"/><circle cx="1708.9" cy="607" r="7"/><circle cx="1690.1" cy="489.1" r="7"/><circle cx="1706.2" cy="616.7" r="7"/><circle cx="1705.5" cy="554.3" r="7"/><circle cx="1682.1" cy="426.5" r="7"/><circle cx="1690.1" cy="336.5" r="7"/><circle cx="1709.8" cy="465.8" r="7"/><circle cx="1678.8" cy="486.5" r="7"/><circle cx="1711.2" cy="468.3" r="7"/><circle cx="1690.3" cy="406.6" r="7"/><circle cx="1690.6" cy="471.1" r="7"/><circle cx="1693.1" cy="347" r="7"/><circle cx="1695.6" cy="418.4" r="7"/><circle cx="1680.7" cy="331.3" r="7"/><circle cx="1707.7" cy="381.9" r="7"/><circle cx="1694.5" cy="416.8" r="7"/><circle cx="1699.5" cy="271.5" r="7"/><circle cx="1708.8" cy="506.8" r="7"/><circle cx="1677.3" cy="554.5" r="7"/><circle cx="1683.1" cy="457.4" r="7"/><circle cx="1691.3" cy="483.7" r="7"/><circle cx="1681.5" cy="340.8" r="7"/><circle cx="1701.3" cy="552.9" r="7"/><circle cx="1696.8" cy="382.5" r="7"/><circle cx="1695.6" cy="494.1" r="7"/><circle cx="1698.4" cy="500.7" r="7"/><circle cx="1683.3" cy="292.5" r="7"/><circle cx="1691.3" cy="562.9" r="7"/><circle cx="1683.4" cy="517.6" r="7"/><circle cx="1701.6" cy="512.4" r="7"/><circle cx="1696" cy="383.4" r="7"/><circle cx="1686.5" cy="397.3" r="7"/><circle cx="1692.9" cy="456.3" r="7"/><circle cx="1674.8" cy="335.4" r="7"/><circle cx="1703.1" cy="350.3" r="7"/><circle cx="1701.9" cy="487.7" r="7"/><circle cx="1694.6" cy="499.5" r="7"/><circle cx="1682.1" cy="473.6" r="7"/><circle cx="1678.3" cy="369.1" r="7"/><circle cx="1696.2" cy="382.8" r="7"/><circle cx="1684.1" cy="309.8" r="7"/><circle cx="1707.5" cy="443.5" r="7"/><circle cx="1702.5" cy="597.6" r="7"/><circle cx="1684.2" cy="509.2" r="7"/><circle cx="1686.7" cy="260.8" r="7"/><circle cx="1708" cy="328.2" r="7"/><circle cx="1708.1" cy="368.5" r="7"/><circle cx="1679.1" cy="355.1" r="7"/><circle cx="1681.4" cy="389.7" r="7"/><circle cx="1691.3" cy="347" r="7"/><circle cx="1703.4" cy="367" r="7"/><circle cx="1708.8" cy="519.6" r="7"/><circle cx="1692.4" cy="544" r="7"/><circle cx="1707.6" cy="376" r="7"/><circle cx="1709" cy="477.4" r="7"/><circle cx="1700.7" cy="578.9" r="7"/><circle cx="1705.7" cy="342.7" r="7"/><circle cx="1699.4" cy="383.6" r="7"/><circle cx="1681.7" cy="410.8" r="7"/><circle cx="1684.9" cy="514.8" r="7"/><circle cx="1694.3" cy="298.9" r="7"/><circle cx="1682.8" cy="569.4" r="7"/><circle cx="1709.3" cy="534.4" r="7"/><circle cx="1710.2" cy="379" r="7"/><circle cx="1695" cy="580.3" r="7"/><circle cx="1706.2" cy="598.6" r="7"/><circle cx="1710.3" cy="474.7" r="7"/><circle cx="1700.1" cy="519.3" r="7"/><circle cx="1676.4" cy="405.5" r="7"/><circle cx="1704.9" cy="548.4" r="7"/><circle cx="1675.7" cy="365.6" r="7"/><circle cx="1706.6" cy="434.1" r="7"/><circle cx="1710.8" cy="502.5" r="7"/><circle cx="1675.4" cy="520.8" r="7"/><circle cx="1685" cy="472.6" r="7"/><circle cx="1679.9" cy="354.5" r="7"/><circle cx="1708" cy="332.4" r="7"/><circle cx="1679.7" cy="498" r="7"/><circle cx="1674.9" cy="406.4" r="7"/><circle cx="1711.7" cy="408.6" r="7"/><circle cx="1680.2" cy="435.4" r="7"/><circle cx="1679.7" cy="442.5" r="7"/><circle cx="1691.8" cy="352.9" r="7"/><circle cx="1707.7" cy="491.7" r="7"/><circle cx="1711.4" cy="442.2" r="7"/><circle cx="1687" cy="334.3" r="7"/><circle cx="1690.3" cy="370" r="7"/><circle cx="1700.6" cy="432.3" r="7"/><circle cx="1686" cy="521.7" r="7"/><circle cx="1695.3" cy="521.4" r="7"/><circle cx="1681" cy="472.7" r="7"/><circle cx="1704.6" cy="381.2" r="7"/><circle cx="1682.6" cy="612" r="7"/><circle cx="1703.6" cy="527.3" r="7"/><circle cx="1708.9" cy="443.8" r="7"/><circle cx="1696.6" cy="492" r="7"/><circle cx="1696" cy="435.8" r="7"/><circle cx="1690.4" cy="302.9" r="7"/><circle cx="1688.2" cy="413.3" r="7"/><circle cx="1688.5" cy="398.4" r="7"/><circle cx="1675.4" cy="609.8" r="7"/><circle cx="1691.4" cy="518.6" r="7"/><circle cx="1683.6" cy="471.4" r="7"/><circle cx="1692" cy="597.8" r="7"/><circle cx="1707.8" cy="373.9" r="7"/><circle cx="1684.2" cy="560.5" r="7"/><circle cx="1692.2" cy="510.1" r="7"/><circle cx="1704.3" cy="397" r="7"/><circle cx="1677" cy="423.2" r="7"/><circle cx="1704.7" cy="522.4" r="7"/><circle cx="1707.8" cy="498.3" r="7"/><circle cx="1709.2" cy="409.2" r="7"/><circle cx="1683.3" cy="521.8" r="7"/><circle cx="1686.8" cy="380.7" r="7"/><circle cx="1681.5" cy="416" r="7"/><circle cx="1709.7" cy="518.1" r="7"/><circle cx="1690" cy="476.6" r="7"/><circle cx="1687.5" cy="482.9" r="7"/><circle cx="1695.5" cy="268.3" r="7"/><circle cx="1697.7" cy="318.3" r="7"/><circle cx="1685" cy="348.7" r="7"/><circle cx="1684.5" cy="540.8" r="7"/><circle cx="1680.9" cy="415.7" r="7"/><circle cx="1682.7" cy="326" r="7"/><circle cx="1702.9" cy="376.9" r="7"/><circle cx="1689.5" cy="403" r="7"/><circle cx="1684.1" cy="410.9" r="7"/><circle cx="1684.8" cy="504.2" r="7"/><circle cx="1691.8" cy="386.9" r="7"/><circle cx="1681.4" cy="447.7" r="7"/><circle cx="1694.9" cy="378.4" r="7"/><circle cx="1684.4" cy="413.7" r="7"/><circle cx="1684" cy="456.2" r="7"/><circle cx="1687.6" cy="362" r="7"/><circle cx="1676.4" cy="494" r="7"/><circle cx="1694.3" cy="315.8" r="7"/><circle cx="1711.1" cy="412.4" r="7"/><circle cx="1676.5" cy="530.2" r="7"/><circle cx="1699" cy="564.6" r="7"/><circle cx="1685.8" cy="385.7" r="7"/><circle cx="1704.6" cy="292.7" r="7"/><circle cx="1684.9" cy="504.2" r="7"/><circle cx="1690.9" cy="383.4" r="7"/><circle cx="1680.9" cy="594.8" r="7"/><circle cx="1693.7" cy="485.1" r="7"/><circle cx="1683.7" cy="296.3" r="7"/><circle cx="1695.3" cy="443" r="7"/><circle cx="1705.5" cy="426.5" r="7"/><circle cx="1680.1" cy="262.7" r="7"/><circle cx="1679.6" cy="475.2" r="7"/><circle cx="1700.2" cy="506.8" r="7"/><circle cx="1680.5" cy="545" r="7"/><circle cx="1679.8" cy="495.9" r="7"/><circle cx="1679.5" cy="316" r="7"/><circle cx="1695.2" cy="396.2" r="7"/><circle cx="1678.1" cy="403" r="7"/><circle cx="1703.9" cy="534.6" r="7"/><circle cx="1684.2" cy="464.4" r="7"/><circle cx="1694.7" cy="373.2" r="7"/><circle cx="1680.2" cy="576.7" r="7"/><circle cx="1688.5" cy="533.2" r="7"/><circle cx="1705.6" cy="381" r="7"/><circle cx="1687.4" cy="423.7" r="7"/><circle cx="1702.4" cy="372.9" r="7"/><circle cx="1700.5" cy="577.3" r="7"/><circle cx="1702.9" cy="402.9" r="7"/><circle cx="1684.9" cy="458.1" r="7"/><circle cx="1682" cy="367.1" r="7"/><circle cx="1704.8" cy="607" r="7"/><circle cx="1694.8" cy="448.5" r="7"/><circle cx="1678.1" cy="405.3" r="7"/><circle cx="1679.9" cy="590.8" r="7"/><circle cx="1704.6" cy="500.8" r="7"/><circle cx="1683.6" cy="274.8" r="7"/><circle cx="1694.5" cy="539.5" r="7"/><circle cx="1694.3" cy="536.4" r="7"/><circle cx="1685.1" cy="400.9" r="7"/><circle cx="1701.9" cy="503.7" r="7"/><circle cx="1688.3" cy="433.2" r="7"/><circle cx="1704.6" cy="420" r="7"/><circle cx="1675.1" cy="448.6" r="7"/><circle cx="1680.3" cy="434.1" r="7"/><circle cx="1705.3" cy="378.9" r="7"/><circle cx="1679.4" cy="492.1" r="7"/><circle cx="1691.4" cy="373.2" r="7"/><circle cx="1697.1" cy="417.8" r="7"/><circle cx="1679.4" cy="556.7" r="7"/><circle cx="1690.4" cy="381.8" r="7"/><circle cx="1683" cy="605" r="7"/><circle cx="1676.9" cy="264.5" r="7"/><circle cx="1699.7" cy="448.2" r="7"/><circle cx="1685.9" cy="460.2" r="7"/><circle cx="1701.2" cy="523.5" r="7"/><circle cx="1685.4" cy="427.5" r="7"/><circle cx="1706.6" cy="480.3" r="7"/><circle cx="1681.3" cy="553.1" r="7"/><circle cx="1711.2" cy="354.7" r="7"/><circle cx="1687.9" cy="296.5" r="7"/><circle cx="1679" cy="383.1" r="7"/><circle cx="1708.4" cy="563.2" r="7"/><circle cx="1681.3" cy="375.8" r="7"/><circle cx="1694.9" cy="556.5" r="7"/><circle cx="1688.6" cy="596.9" r="7"/><circle cx="1675.7" cy="604.3" r="7"/><circle cx="1695.5" cy="600.4" r="7"/><circle cx="1709.4" cy="387.3" r="7"/><circle cx="1688.4" cy="599.7" r="7"/><circle cx="1701" cy="467.8" r="7"/><circle cx="1708.8" cy="493.5" r="7"/><circle cx="1677.7" cy="382.8" r="7"/><circle cx="1710.7" cy="423" r="7"/><circle cx="1711.1" cy="356.1" r="7"/><circle cx="1706" cy="521.8" r="7"/><circle cx="1706.2" cy="404.8" r="7"/><circle cx="1708.9" cy="465.3" r="7"/><circle cx="1690" cy="415.9" r="7"/><circle cx="1674.9" cy="471.3" r="7"/><circle cx="1704.7" cy="304" r="7"/><circle cx="1702.7" cy="319.5" r="7"/><circle cx="1675.5" cy="474" r="7"/><circle cx="1696.6" cy="413.1" r="7"/><circle cx="1677.6" cy="613" r="7"/><circle cx="1683" cy="508.8" r="7"/><circle cx="1686.8" cy="415.9" r="7"/><circle cx="1680.8" cy="371" r="7"/><circle cx="1686.8" cy="402.4" r="7"/><circle cx="1678.6" cy="545.9" r="7"/><circle cx="1708.8" cy="484.3" r="7"/><circle cx="1679.5" cy="499.8" r="7"/><circle cx="1692.3" cy="478.7" r="7"/><circle cx="1697.3" cy="428" r="7"/><circle cx="1692" cy="410.1" r="7"/><circle cx="1711.6" cy="456.1" r="7"/><circle cx="1683" cy="458.7" r="7"/><circle cx="1684" cy="485.5" r="7"/><circle cx="1691" cy="398.5" r="7"/><circle cx="1682.3" cy="493.4" r="7"/><circle cx="1692.4" cy="279.8" r="7"/><circle cx="1709.2" cy="527.1" r="7"/><circle cx="1677.4" cy="499.7" r="7"/><circle cx="1706.5" cy="486.3" r="7"/><circle cx="1688" cy="406.6" r="7"/><circle cx="1684.5" cy="481.7" r="7"/><circle cx="1684" cy="539.9" r="7"/><circle cx="1685.9" cy="438.2" r="7"/><circle cx="1678.8" cy="477.9" r="7"/><circle cx="1694.2" cy="539.7" r="7"/><circle cx="1711.4" cy="409.3" r="7"/><circle cx="1680" cy="523.8" r="7"/><circle cx="1686.4" cy="501" r="7"/><circle cx="1687.4" cy="449.7" r="7"/><circle cx="1711" cy="383" r="7"/><circle cx="1675.3" cy="544.2" r="7"/><circle cx="1674.9" cy="299.8" r="7"/><circle cx="1702.6" cy="606.7" r="7"/><circle cx="1687.4" cy="338.4" r="7"/><circle cx="1690.9" cy="615.8" r="7"/><circle cx="1694" cy="436.6" r="7"/><circle cx="1690.1" cy="535.3" r="7"/><circle cx="1707.6" cy="527" r="7"/><circle cx="1689.9" cy="524.3" r="7"/><circle cx="1678.4" cy="462.4" r="7"/><circle cx="1676.6" cy="369.3" r="7"/><circle cx="1697.6" cy="516.9" r="7"/><circle cx="1689.4" cy="338.8" r="7"/><circle cx="1706.8" cy="353.9" r="7"/><circle cx="1681.2" cy="486.2" r="7"/><circle cx="1677" cy="352.2" r="7"/><circle cx="1692.6" cy="366" r="7"/><circle cx="1703.9" cy="488.1" r="7"/><circle cx="1711.1" cy="389.4" r="7"/><circle cx="1678.9" cy="544.4" r="7"/><circle cx="1693.1" cy="303.7" r="7"/><circle cx="1688.9" cy="258.2" r="7"/><circle cx="1684.4" cy="330.7" r="7"/><circle cx="1690.1" cy="344.7" r="7"/><circle cx="1675.5" cy="387" r="7"/><circle cx="1683.4" cy="435.4" r="7"/><circle cx="1693.3" cy="580.5" r="7"/><circle cx="1686.6" cy="460.3" r="7"/><circle cx="1698.1" cy="481" r="7"/><circle cx="1677.3" cy="481.8" r="7"/><circle cx="1682.2" cy="318.5" r="7"/><circle cx="1709.4" cy="559.1" r="7"/><circle cx="1699.7" cy="350.7" r="7"/><circle cx="1678.5" cy="341.1" r="7"/><circle cx="1679.8" cy="546" r="7"/><circle cx="1698.4" cy="357.2" r="7"/><circle cx="1702.6" cy="447" r="7"/><circle cx="1681.1" cy="332.4" r="7"/><circle cx="1677.6" cy="344" r="7"/><circle cx="1699.1" cy="383.5" r="7"/><circle cx="1696.7" cy="287.9" r="7"/><circle cx="1678.3" cy="448.8" r="7"/><circle cx="1677.8" cy="462" r="7"/><circle cx="1696.6" cy="537.3" r="7"/><circle cx="1709.8" cy="448.8" r="7"/><circle cx="1694.8" cy="400" r="7"/><circle cx="1701.3" cy="536.1" r="7"/><circle cx="1691.1" cy="334.8" r="7"/><circle cx="1700.9" cy="434.1" r="7"/><circle cx="1693.1" cy="352.1" r="7"/><circle cx="1692.2" cy="386.1" r="7"/><circle cx="1678.7" cy="449.8" r="7"/><circle cx="1681.2" cy="432.2" r="7"/><circle cx="1693.3" cy="417.6" r="7"/><circle cx="1679.7" cy="449" r="7"/><circle cx="1702.3" cy="384" r="7"/><circle cx="1675" cy="435.5" r="7"/><circle cx="1688.4" cy="304.3" r="7"/><circle cx="1710.5" cy="401.4" r="7"/><circle cx="1710.4" cy="415.9" r="7"/><circle cx="1705.4" cy="489.7" r="7"/><circle cx="1710.2" cy="377.7" r="7"/><circle cx="1677.3" cy="450.5" r="7"/><circle cx="1698.6" cy="527.2" r="7"/><circle cx="1707.9" cy="390.3" r="7"/><circle cx="1692.8" cy="337" r="7"/><circle cx="1682.6" cy="613" r="7"/><circle cx="1690.1" cy="545.7" r="7"/><circle cx="1707.7" cy="544.7" r="7"/><circle cx="1692.3" cy="385.9" r="7"/><circle cx="1693.2" cy="349.8" r="7"/><circle cx="1707.2" cy="274.1" r="7"/><circle cx="1680.4" cy="464.9" r="7"/><circle cx="1678.8" cy="430.8" r="7"/><circle cx="1697.4" cy="519.4" r="7"/><circle cx="1707.1" cy="472.4" r="7"/><circle cx="1679.9" cy="315.9" r="7"/><circle cx="1691.8" cy="442.4" r="7"/><circle cx="1701.4" cy="427.1" r="7"/><circle cx="1705.6" cy="451.7" r="7"/><circle cx="1689.2" cy="614.5" r="7"/><circle cx="1702.3" cy="419.8" r="7"/><circle cx="1693.5" cy="585.4" r="7"/><circle cx="1691.7" cy="420.1" r="7"/><circle cx="1681.7" cy="444.4" r="7"/><circle cx="1683.1" cy="410.2" r="7"/><circle cx="1676.6" cy="575.4" r="7"/><circle cx="1689.2" cy="287.4" r="7"/><circle cx="1693.9" cy="516.9" r="7"/><circle cx="1696.3" cy="452.3" r="7"/><circle cx="1705.5" cy="418.4" r="7"/><circle cx="1678.7" cy="507.7" r="7"/><circle cx="1698.4" cy="275.1" r="7"/><circle cx="1704.1" cy="570.7" r="7"/><circle cx="1711.6" cy="533.4" r="7"/><circle cx="1682.8" cy="474" r="7"/><circle cx="1675.2" cy="483.2" r="7"/><circle cx="1706.9" cy="351.4" r="7"/><circle cx="1697.2" cy="477.5" r="7"/><circle cx="1693.9" cy="479.4" r="7"/><circle cx="1699" cy="297.5" r="7"/><circle cx="1684.1" cy="284.9" r="7"/><circle cx="1688" cy="545.9" r="7"/><circle cx="1706.5" cy="342.9" r="7"/><circle cx="1696.2" cy="390.1" r="7"/><circle cx="1701.2" cy="373" r="7"/><circle cx="1705.2" cy="370.3" r="7"/><circle cx="1685.5" cy="426.1" r="7"/><circle cx="1694.5" cy="349.2" r="7"/><circle cx="1684.2" cy="437.8" r="7"/><circle cx="1677.4" cy="597.5" r="7"/><circle cx="1706.5" cy="485.9" r="7"/><circle cx="1691.1" cy="503.2" r="7"/><circle cx="1688.3" cy="504.6" r="7"/><circle cx="1682.8" cy="469.1" r="7"/><circle cx="1698.5" cy="349.4" r="7"/><circle cx="1695.3" cy="464.5" r="7"/><circle cx="1692" cy="444.4" r="7"/><circle cx="1709.1" cy="441.4" r="7"/><circle cx="1675.9" cy="533.5" r="7"/><circle cx="1698.9" cy="511.1" r="7"/><circle cx="1691.5" cy="438.1" r="7"/><circle cx="1708.3" cy="272.1" r="7"/><circle cx="1700.9" cy="454.4" r="7"/><circle cx="1678" cy="490.9" r="7"/><circle cx="1687.4" cy="424.7" r="7"/><circle cx="1677.2" cy="512.5" r="7"/><circle cx="1697.7" cy="458.8" r="7"/><circle cx="1696.1" cy="574.9" r="7"/><circle cx="1680.3" cy="322.1" r="7"/><circle cx="1699.1" cy="424.8" r="7"/><circle cx="1703.2" cy="491.3" r="7"/><circle cx="1693" cy="453.6" r="7"/><circle cx="1693" cy="452.3" r="7"/><circle cx="1701.1" cy="374.8" r="7"/><circle cx="1690.4" cy="423.5" r="7"/><circle cx="1680.6" cy="516.2" r="7"/><circle cx="1677.3" cy="432.2" r="7"/><circle cx="1692.8" cy="367.3" r="7"/><circle cx="1699.4" cy="482" r="7"/><circle cx="1700.5" cy="445.9" r="7"/><circle cx="1706.3" cy="302.9" r="7"/><circle cx="1701.1" cy="462.8" r="7"/><circle cx="1695.2" cy="435.3" r="7"/><circle cx="1676.3" cy="264.1" r="7"/><circle cx="1706.4" cy="494" r="7"/><circle cx="1702.2" cy="493" r="7"/><circle cx="1705.9" cy="453.5" r="7"/><circle cx="1688.2" cy="348.7" r="7"/><circle cx="1695" cy="505.6" r="7"/><circle cx="1688" cy="576.2" r="7"/><circle cx="1693.2" cy="505.8" r="7"/><circle cx="1699.6" cy="350.2" r="7"/><circle cx="1678.7" cy="356.7" r="7"/><circle cx="1693.4" cy="386.8" r="7"/><circle cx="1709.3" cy="388.4" r="7"/><circle cx="1710" cy="567.6" r="7"/><circle cx="1690.5" cy="491.2" r="7"/><circle cx="1706.9" cy="477.5" r="7"/><circle cx="1675.1" cy="581.9" r="7"/><circle cx="1699" cy="539.4" r="7"/><circle cx="1708" cy="283" r="7"/><circle cx="1710.8" cy="388.5" r="7"/><circle cx="1702.9" cy="524.9" r="7"/><circle cx="1705.3" cy="516.9" r="7"/><circle cx="1687.3" cy="499.5" r="7"/><circle cx="1711.6" cy="540.5" r="7"/><circle cx="1686.9" cy="277.5" r="7"/><circle cx="1706.4" cy="386.6" r="7"/><circle cx="1691.1" cy="450" r="7"/><circle cx="1685.1" cy="423.5" r="7"/><circle cx="1680" cy="447.3" r="7"/><circle cx="1704.4" cy="309.3" r="7"/><circle cx="1709.4" cy="413.3" r="7"/><circle cx="1690.4" cy="309.2" r="7"/><circle cx="1690.3" cy="531" r="7"/><circle cx="1685.2" cy="402.5" r="7"/><circle cx="1679.7" cy="602.9" r="7"/><circle cx="1701.5" cy="455.7" r="7"/><circle cx="1685.9" cy="388.6" r="7"/><circle cx="1694.5" cy="413.6" r="7"/><circle cx="1690" cy="358.3" r="7"/><circle cx="1691.7" cy="513.8" r="7"/><circle cx="1698.9" cy="458.8" r="7"/><circle cx="1679" cy="412.2" r="7"/><circle cx="1681.6" cy="309.4" r="7"/><circle cx="1708.4" cy="497" r="7"/><circle cx="1681.6" cy="341.2" r="7"/><circle cx="1704.8" cy="466.5" r="7"/><circle cx="1697.3" cy="501.9" r="7"/><circle cx="1678.2" cy="495" r="7"/><circle cx="1688.6" cy="388.7" r="7"/><circle cx="1703.4" cy="488.6" r="7"/><circle cx="1688.6" cy="570.6" r="7"/><circle cx="1682.6" cy="442.7" r="7"/><circle cx="1710.4" cy="441.4" r="7"/><circle cx="1679.6" cy="561.1" r="7"/><circle cx="1690.9" cy="480.1" r="7"/><circle cx="1695.1" cy="410.6" r="7"/><circle cx="1707" cy="356" r="7"/><circle cx="1685.7" cy="465.2" r="7"/><circle cx="1705.5" cy="465.9" r="7"/><circle cx="1677.8" cy="458" r="7"/><circle cx="1705.1" cy="433.2" r="7"/><circle cx="1686.1" cy="329.9" r="7"/><circle cx="1698.3" cy="548.1" r="7"/><circle cx="1701" cy="267.7" r="7"/><circle cx="1692.3" cy="436.9" r="7"/><circle cx="1693.5" cy="458.8" r="7"/><circle cx="1685.3" cy="467" r="7"/><circle cx="1697.1" cy="562.1" r="7"/><circle cx="1676" cy="457.1" r="7"/><circle cx="1695.7" cy="523.7" r="7"/><circle cx="1680.9" cy="262.2" r="7"/><circle cx="1711.5" cy="493.9" r="7"/><circle cx="1675.3" cy="496.3" r="7"/><circle cx="1705.7" cy="568.3" r="7"/><circle cx="1689.8" cy="429.2" r="7"/><circle cx="1710" cy="480.8" r="7"/><circle cx="1689.5" cy="363.5" r="7"/><circle cx="1684.5" cy="534" r="7"/><circle cx="1704.2" cy="421.4" r="7"/><circle cx="1707.1" cy="494.3" r="7"/><circle cx="1692" cy="267.6" r="7"/><circle cx="1702.7" cy="337.9" r="7"/><circle cx="1696.9" cy="502.7" r="7"/><circle cx="1693.6" cy="457.3" r="7"/><circle cx="1690" cy="452.4" r="7"/><circle cx="1700.4" cy="507.2" r="7"/><circle cx="1678.4" cy="453.6" r="7"/><circle cx="1706.6" cy="549.8" r="7"/><circle cx="1693.8" cy="324" r="7"/><circle cx="1686" cy="520.5" r="7"/><circle cx="1690.3" cy="571.6" r="7"/><circle cx="1700.9" cy="337.4" r="7"/><circle cx="1693.1" cy="387.7" r="7"/><circle cx="1710.3" cy="360.9" r="7"/><circle cx="1682.4" cy="331.2" r="7"/><circle cx="1684.8" cy="444.3" r="7"/><circle cx="1686.1" cy="442" r="7"/><circle cx="1679" cy="340.9" r="7"/><circle cx="1678.1" cy="445.3" r="7"/><circle cx="1702.4" cy="455.7" r="7"/><circle cx="1697.3" cy="480.2" r="7"/><circle cx="1700.8" cy="322.6" r="7"/><circle cx="1690.2" cy="551" r="7"/><circle cx="1707.1" cy="359" r="7"/><circle cx="1703.1" cy="459.7" r="7"/><circle cx="1688.7" cy="357.1" r="7"/><circle cx="1699.5" cy="428.6" r="7"/><circle cx="1706.2" cy="314.6" r="7"/><circle cx="1710.1" cy="602.5" r="7"/><circle cx="1703" cy="329.2" r="7"/><circle cx="1688" cy="258.6" r="7"/><circle cx="1693" cy="382" r="7"/><circle cx="1686.7" cy="447.8" r="7"/><circle cx="1697.5" cy="336.1" r="7"/><circle cx="1696" cy="374.1" r="7"/><circle cx="1706.1" cy="557.1" r="7"/><circle cx="1683.6" cy="440.8" r="7"/><circle cx="1701.5" cy="509.4" r="7"/><circle cx="1685.9" cy="468.6" r="7"/><circle cx="1698.2" cy="529.7" r="7"/><circle cx="1687" cy="454.5" r="7"/><circle cx="1702.5" cy="429.6" r="7"/><circle cx="1684.4" cy="350.5" r="7"/><circle cx="1707.9" cy="331" r="7"/><circle cx="1702" cy="388.3" r="7"/><circle cx="1675.1" cy="353.9" r="7"/><circle cx="1685.5" cy="436.2" r="7"/><circle cx="1701.1" cy="578" r="7"/><circle cx="1708.2" cy="505.9" r="7"/><circle cx="1689.6" cy="523.5" r="7"/><circle cx="1682.8" cy="437.6" r="7"/><circle cx="1696" cy="506.6" r="7"/><circle cx="1691.2" cy="498.6" r="7"/><circle cx="1692.1" cy="609" r="7"/><circle cx="1705.3" cy="284.2" r="7"/><circle cx="1710" cy="391.3" r="7"/><circle cx="1678.9" cy="454.2" r="7"/><circle cx="1678.7" cy="257.7" r="7"/><circle cx="1710.2" cy="555.9" r="7"/><circle cx="1701.1" cy="502.9" r="7"/><circle cx="1677.6" cy="371.8" r="7"/><circle cx="1687.4" cy="467.4" r="7"/><circle cx="1702.2" cy="302.5" r="7"/><circle cx="1683.7" cy="461" r="7"/><circle cx="1676.5" cy="428.9" r="7"/><circle cx="1707.7" cy="419.7" r="7"/><circle cx="1694.9" cy="545.3" r="7"/><circle cx="1684.4" cy="396.9" r="7"/><circle cx="1698.9" cy="409.4" r="7"/><circle cx="1706.2" cy="519.1" r="7"/><circle cx="1692.5" cy="501" r="7"/><circle cx="1689.5" cy="353.8" r="7"/><circle cx="1696.6" cy="421.9" r="7"/><circle cx="1685" cy="580.1" r="7"/><circle cx="1706.2" cy="323.1" r="7"/><circle cx="1688.1" cy="590.7" r="7"/><circle cx="1684" cy="366.5" r="7"/><circle cx="1684.2" cy="438.9" r="7"/><circle cx="1680.5" cy="428.1" r="7"/><circle cx="1678.2" cy="300.8" r="7"/><circle cx="1704.4" cy="300.5" r="7"/><circle cx="1704.6" cy="576" r="7"/><circle cx="1710.1" cy="285.6" r="7"/><circle cx="1678.3" cy="530.5" r="7"/><circle cx="1699.4" cy="491.3" r="7"/><circle cx="1692.4" cy="500.8" r="7"/><circle cx="1697.8" cy="485.5" r="7"/><circle cx="1696.6" cy="539.7" r="7"/><circle cx="1694.5" cy="435.2" r="7"/><circle cx="1682.7" cy="357.1" r="7"/><circle cx="1696.4" cy="332.1" r="7"/><circle cx="1693.6" cy="466.9" r="7"/><circle cx="1693.9" cy="506.5" r="7"/><circle cx="1686.4" cy="299.5" r="7"/><circle cx="1685.7" cy="384.9" r="7"/><circle cx="1709" cy="391.1" r="7"/><circle cx="1704.6" cy="372.5" r="7"/><circle cx="1692" cy="407.3" r="7"/><circle cx="1675.1" cy="320" r="7"/><circle cx="1681.4" cy="329" r="7"/><circle cx="1699" cy="429.3" r="7"/><circle cx="1700.2" cy="405.6" r="7"/><circle cx="1705.8" cy="375.4" r="7"/><circle cx="1700.6" cy="363" r="7"/><circle cx="1676.7" cy="493.8" r="7"/><circle cx="1711.1" cy="359.1" r="7"/><circle cx="1683.7" cy="528.7" r="7"/><circle cx="1681.2" cy="285.5" r="7"/><circle cx="1688.9" cy="314" r="7"/><circle cx="1704" cy="549.2" r="7"/><circle cx="1687.3" cy="454" r="7"/><circle cx="1701.6" cy="271.3" r="7"/><circle cx="1682.2" cy="440.6" r="7"/><circle cx="1706.3" cy="357.7" r="7"/><circle cx="1701.6" cy="512" r="7"/><circle cx="1682.1" cy="517.6" r="7"/><circle cx="1705.8" cy="508.8" r="7"/><circle cx="1694" cy="582.6" r="7"/><circle cx="1698.8" cy="493" r="7"/><circle cx="1692.9" cy="443.7" r="7"/><circle cx="1689.4" cy="406.7" r="7"/><circle cx="1702.4" cy="336.5" r="7"/><circle cx="1693.9" cy="563.8" r="7"/><circle cx="1710.3" cy="397" r="7"/><circle cx="1687.6" cy="477.8" r="7"/><circle cx="1699.3" cy="403.3" r="7"/><circle cx="1702.7" cy="531" r="7"/><circle cx="1681.8" cy="467.4" r="7"/><circle cx="1684.2" cy="520.4" r="7"/><circle cx="1698.5" cy="433.2" r="7"/><circle cx="1703.5" cy="587.1" r="7"/><circle cx="1690.3" cy="450.4" r="7"/><circle cx="1677.7" cy="499.1" r="7"/><circle cx="1679.1" cy="441.5" r="7"/><circle cx="1680.2" cy="380.7" r="7"/><circle cx="1701" cy="335.9" r="7"/><circle cx="1690.3" cy="495.3" r="7"/><circle cx="1704.7" cy="264.3" r="7"/><circle cx="1694.3" cy="297.7" r="7"/><circle cx="1678.9" cy="447.2" r="7"/><circle cx="1678.2" cy="502.3" r="7"/><circle cx="1711.8" cy="430.2" r="7"/><circle cx="1677.6" cy="273.4" r="7"/><circle cx="1694.8" cy="539.1" r="7"/><circle cx="1684.3" cy="513.4" r="7"/><circle cx="1688.8" cy="414.9" r="7"/><circle cx="1690.4" cy="461.4" r="7"/><circle cx="1704.9" cy="440.2" r="7"/><circle cx="1701.1" cy="524.1" r="7"/><circle cx="1681.3" cy="261.8" r="7"/><circle cx="1675.6" cy="384.2" r="7"/><circle cx="1710" cy="575" r="7"/><circle cx="1676.1" cy="419" r="7"/><circle cx="1703.5" cy="540.2" r="7"/><circle cx="1694.2" cy="310.3" r="7"/><circle cx="1681.4" cy="476.7" r="7"/><circle cx="1692.1" cy="416.3" r="7"/><circle cx="1685.1" cy="301.4" r="7"/><circle cx="1695.6" cy="387.8" r="7"/><circle cx="1683.8" cy="514.9" r="7"/><circle cx="1705.5" cy="461.4" r="7"/><circle cx="1694.9" cy="379.4" r="7"/><circle cx="1704" cy="461.2" r="7"/><circle cx="1708.9" cy="432.7" r="7"/><circle cx="1695.1" cy="483" r="7"/><circle cx="1677.1" cy="303.7" r="7"/><circle cx="1690.9" cy="394.4" r="7"/><circle cx="1698.4" cy="339.1" r="7"/><circle cx="1701.3" cy="592.8" r="7"/><circle cx="1690.4" cy="467.9" r="7"/><circle cx="1711.6" cy="446.5" r="7"/><circle cx="1704.8" cy="379.8" r="7"/><circle cx="1693.3" cy="545.2" r="7"/><circle cx="1683.1" cy="563.1" r="7"/><circle cx="1709.2" cy="421" r="7"/><circle cx="1678.7" cy="403.8" r="7"/><circle cx="1681" cy="530.1" r="7"/><circle cx="1681.9" cy="575.2" r="7"/><circle cx="1704.1" cy="306.5" r="7"/><circle cx="1686.3" cy="262.9" r="7"/><circle cx="1699.7" cy="564.7" r="7"/><circle cx="1692.7" cy="549.4" r="7"/><circle cx="1683.8" cy="335.4" r="7"/><circle cx="1679.6" cy="523.6" r="7"/><circle cx="1709.1" cy="360" r="7"/><circle cx="1710.4" cy="530.5" r="7"/><circle cx="1684.2" cy="612" r="7"/><circle cx="1703.4" cy="472.6" r="7"/><circle cx="1699.5" cy="448.8" r="7"/><circle cx="1692.8" cy="601.5" r="7"/><circle cx="1699.6" cy="413.1" r="7"/><circle cx="1678.6" cy="548.3" r="7"/><circle cx="1709" cy="591.4" r="7"/><circle cx="1683" cy="527.5" r="7"/><circle cx="1695.5" cy="420.3" r="7"/><circle cx="1707.2" cy="352.4" r="7"/><circle cx="1705" cy="481.1" r="7"/><circle cx="1690.8" cy="415" r="7"/><circle cx="1707.5" cy="386.1" r="7"/><circle cx="1682.8" cy="364.5" r="7"/><circle cx="1711.6" cy="538.6" r="7"/><circle cx="1702.9" cy="517.7" r="7"/><circle cx="1708.5" cy="563.1" r="7"/><circle cx="1688.8" cy="414.1" r="7"/><circle cx="1685.7" cy="448.4" r="7"/><circle cx="1689.5" cy="517.2" r="7"/><circle cx="1679.6" cy="568.2" r="7"/><circle cx="1694.2" cy="446.4" r="7"/><circle cx="1710.4" cy="257.3" r="7"/><circle cx="1699.1" cy="578.4" r="7"/><circle cx="1705.9" cy="441" r="7"/><circle cx="1700" cy="489.4" r="7"/><circle cx="1705.2" cy="589.1" r="7"/><circle cx="1694.2" cy="530.9" r="7"/><circle cx="1694.8" cy="540.9" r="7"/><circle cx="1687.5" cy="462.8" r="7"/><circle cx="1688.9" cy="476.6" r="7"/><circle cx="1692.7" cy="390.4" r="7"/><circle cx="1685.4" cy="561.3" r="7"/><circle cx="1680.5" cy="398.9" r="7"/><circle cx="1675.8" cy="521.9" r="7"/><circle cx="1678.1" cy="396.3" r="7"/><circle cx="1683.9" cy="423.1" r="7"/><circle cx="1681.2" cy="378.8" r="7"/><circle cx="1695.7" cy="432.6" r="7"/><circle cx="1702.6" cy="506.5" r="7"/><circle cx="1699.1" cy="482.7" r="7"/><circle cx="1709.5" cy="432.1" r="7"/><circle cx="1683.3" cy="384" r="7"/><circle cx="1705.3" cy="492.6" r="7"/><circle cx="1693.2" cy="418.4" r="7"/><circle cx="1700.4" cy="391.6" r="7"/><circle cx="1684.8" cy="484.3" r="7"/><circle cx="1685.7" cy="595.1" r="7"/><circle cx="1709.9" cy="466.4" r="7"/><circle cx="1683.1" cy="613.7" r="7"/><circle cx="1685.3" cy="318.2" r="7"/><circle cx="1677.4" cy="501.5" r="7"/><circle cx="1686.3" cy="265.5" r="7"/><circle cx="1688.3" cy="304.7" r="7"/><circle cx="1697.4" cy="490.1" r="7"/><circle cx="1708.2" cy="307" r="7"/><circle cx="1677.3" cy="509.8" r="7"/><circle cx="1702.1" cy="481.1" r="7"/><circle cx="1674.9" cy="545.3" r="7"/><circle cx="1687" cy="481.9" r="7"/><circle cx="1711.7" cy="388.9" r="7"/><circle cx="1686.3" cy="411.6" r="7"/><circle cx="1689.6" cy="426.8" r="7"/><circle cx="1710.7" cy="409.6" r="7"/><circle cx="1705.4" cy="530.9" r="7"/><circle cx="1675.1" cy="449.5" r="7"/><circle cx="1674.8" cy="447.8" r="7"/><circle cx="1688.1" cy="595.2" r="7"/><circle cx="1678.2" cy="500.9" r="7"/><circle cx="1704.5" cy="429.9" r="7"/><circle cx="1692.7" cy="436" r="7"/><circle cx="1687.2" cy="524" r="7"/><circle cx="1699.7" cy="538.6" r="7"/><circle cx="1709.6" cy="393.4" r="7"/><circle cx="1687.8" cy="539.1" r="7"/><circle cx="1676" cy="413.8" r="7"/><circle cx="1677.2" cy="454.5" r="7"/><circle cx="1690.4" cy="517.7" r="7"/><circle cx="1693.8" cy="335.2" r="7"/><circle cx="1691.7" cy="388.5" r="7"/><circle cx="1695.6" cy="394.7" r="7"/><circle cx="1699.9" cy="525.3" r="7"/><circle cx="1693.1" cy="390.5" r="7"/><circle cx="1707.9" cy="358" r="7"/><circle cx="1705.5" cy="447.1" r="7"/><circle cx="1711.3" cy="580.1" r="7"/><circle cx="1705.6" cy="398.1" r="7"/><circle cx="1688.4" cy="388" r="7"/><circle cx="1706.2" cy="380.5" r="7"/><circle cx="1698.6" cy="543.8" r="7"/><circle cx="1707.1" cy="365.1" r="7"/><circle cx="1682.9" cy="395" r="7"/><circle cx="1698.5" cy="489.8" r="7"/><circle cx="1688" cy="323.4" r="7"/><circle cx="1694.8" cy="465.4" r="7"/><circle cx="1702.2" cy="374.3" r="7"/><circle cx="1702.5" cy="387.3" r="7"/><circle cx="1706" cy="392.7" r="7"/><circle cx="1700.2" cy="456.8" r="7"/><circle cx="1675.1" cy="455.7" r="7"/><circle cx="1707.9" cy="404.3" r="7"/><circle cx="1697.9" cy="473.1" r="7"/><circle cx="1705.5" cy="406" r="7"/><circle cx="1676.2" cy="369.1" r="7"/><circle cx="1694.4" cy="294.8" r="7"/><circle cx="1685.5" cy="598.1" r="7"/><circle cx="1687.9" cy="391.8" r="7"/><circle cx="1676.4" cy="499.8" r="7"/><circle cx="1679.8" cy="467" r="7"/><circle cx="1690" cy="507.4" r="7"/><circle cx="1687.8" cy="276.3" r="7"/><circle cx="1696.4" cy="530.2" r="7"/><circle cx="1693.2" cy="442" r="7"/><circle cx="1685.9" cy="400.8" r="7"/><circle cx="1710.5" cy="403.7" r="7"/><circle cx="1689.7" cy="381.4" r="7"/><circle cx="1704" cy="332.5" r="7"/><circle cx="1685.3" cy="324.4" r="7"/><circle cx="1679.1" cy="466.5" r="7"/><circle cx="1698.7" cy="433.1" r="7"/>
</g>
<g stroke="#111" fill="none">
<path d="M268.6 217.8V333.5M268.6 441.5V530M256.4 217.8H280.8M256.4 530H280.8" stroke-width="2.3"/>
<rect x="256.4" y="333.5" width="24.4" height="108" fill="#fff" stroke-width="2.6"/>
<path d="M268.6 333.5V441.5M256.4 387.3H280.8" stroke-width="2.2"/>
</g>
<g stroke="#111" fill="none">
<path d="M504.2 272.6V381.6M504.2 466.4V585M492 272.6H516.4M492 585H516.4" stroke-width="2.3"/>
<rect x="492" y="381.6" width="24.4" height="84.8" fill="#fff" stroke-width="2.6"/>
<path d="M504.2 381.6V466.4M492 424H516.4" stroke-width="2.2"/>
</g>
<g stroke="#111" fill="none">
<path d="M739.5 278.1V429M739.5 532.6V667.6M727.3 278.1H751.7M727.3 667.6H751.7" stroke-width="2.3"/>
<rect x="727.3" y="429" width="24.4" height="103.6" fill="#fff" stroke-width="2.6"/>
<path d="M739.5 429V532.6M727.3 487.3H751.7" stroke-width="2.2"/>
</g>
<g fill="#2f3336">
<circle cx="503.8" cy="116.7" r="7.2"/><circle cx="504.2" cy="592" r="7.2"/><circle cx="504.2" cy="597.5" r="7.2"/><circle cx="503.8" cy="614.9" r="7.2"/>
</g>
<g fill="#2f3336">
<circle cx="739.5" cy="163.6" r="7.2"/><circle cx="739.5" cy="216.6" r="7.2"/><circle cx="739.5" cy="236" r="7.2"/><circle cx="739.5" cy="245.6" r="7.2"/><circle cx="739.5" cy="268.9" r="7.2"/><circle cx="739.5" cy="723" r="7.2"/>
</g>
<g stroke="#111" fill="none">
<path d="M1264.8 171.4V342.1M1264.8 467V587.8M1252.6 171.4H1277M1252.6 587.8H1277" stroke-width="2.3"/>
<rect x="1252.6" y="342.1" width="24.4" height="124.9" fill="#fff" stroke-width="2.6"/>
<path d="M1264.8 342.1V467M1252.6 403.2H1277" stroke-width="2.2"/>
</g>
<g stroke="#111" fill="none">
<path d="M1500.4 221.7V377.6M1500.4 481.4V607.3M1488.2 221.7H1512.6M1488.2 607.3H1512.6" stroke-width="2.3"/>
<rect x="1488.2" y="377.6" width="24.4" height="103.8" fill="#fff" stroke-width="2.6"/>
<path d="M1500.4 377.6V481.4M1488.2 432.3H1512.6" stroke-width="2.2"/>
</g>
<g stroke="#111" fill="none">
<path d="M1735.9 224.9V381.3M1735.9 488.9V632.2M1723.7 224.9H1748.1M1723.7 632.2H1748.1" stroke-width="2.3"/>
<rect x="1723.7" y="381.3" width="24.4" height="107.6" fill="#fff" stroke-width="2.6"/>
<path d="M1735.9 381.3V488.9M1723.7 434.2H1748.1" stroke-width="2.2"/>
</g>
<g fill="#2f3336">
<circle cx="1500.4" cy="193.3" r="7.2"/><circle cx="1500.4" cy="203" r="7.2"/><circle cx="1500.4" cy="212.4" r="7.2"/>
</g>
<g fill="#2f3336">
<circle cx="1735.9" cy="116.8" r="7.2"/><circle cx="1735.9" cy="153" r="7.2"/><circle cx="1735.9" cy="157" r="7.2"/><circle cx="1735.9" cy="161" r="7.2"/><circle cx="1735.9" cy="165" r="7.2"/><circle cx="1735.9" cy="169" r="7.2"/><circle cx="1735.9" cy="173" r="7.2"/><circle cx="1735.9" cy="177" r="7.2"/><circle cx="1735.9" cy="181" r="7.2"/><circle cx="1735.9" cy="184.5" r="7.2"/><circle cx="1735.9" cy="199.5" r="7.2"/><circle cx="1735.9" cy="203" r="7.2"/><circle cx="1735.9" cy="207" r="7.2"/><circle cx="1735.9" cy="211" r="7.2"/><circle cx="1735.9" cy="215" r="7.2"/><circle cx="1735.9" cy="218.5" r="7.2"/><circle cx="1735.9" cy="651" r="7.2"/><circle cx="1735.9" cy="656" r="7.2"/><circle cx="1735.9" cy="698.3" r="7.2"/>
</g>
<g stroke="#73777b" stroke-width="4">
<path d="M268 107H739.5M268 131.2H504M504 150.5H739.5"/>
<path d="M1263.8 109.3H1736.3M1263.8 133H1500.8M1499.3 153H1736.3"/>
</g>
<path d="M289.8 217.8L301.3 217.8L302.1 220.4L303.2 224.1L304.4 228.4L305.9 233.1L307.4 237.8L308.9 242.4L310.4 246.9L312 251.5L313.6 256.2L315.4 260.9L317.3 265.5L319.5 270L322 274.4L324.7 278.7L327.6 282.9L330.5 287.1L333.5 291.2L336.4 295.3L339.3 299.4L342.4 303.4L345.4 307.5L348.4 311.4L351.1 315.1L353.4 318.6L355.4 321.7L357 324.4L358.4 327L359.7 329.5L360.8 332.4L361.9 335.6L362.9 339.3L363.9 343.4L364.7 347.8L365.3 352.2L365.8 356.7L366.1 361L366.1 365.2L365.9 369.5L365.6 373.7L365.1 377.9L364.6 382.2L364 386.4L363.5 390.5L363 394.6L362.4 398.6L361.7 402.8L360.8 407.2L359.7 411.9L358.3 417.1L356.7 422.7L354.8 428.6L352.9 434.5L351 440.3L349.2 445.8L347.4 451L345.7 456L343.9 460.9L342.1 465.7L340.4 470.5L338.6 475.4L336.8 480.4L335.1 485.4L333.4 490.5L331.6 495.5L329.8 500.3L328 505L326 509.7L323.7 514.6L321.4 519.4L319.2 523.7L317.4 527.3L316.1 530L289.8 530Z" fill="#6078aa" stroke="#000" stroke-width="2.2" stroke-linejoin="round"/>
<path d="M524.6 116.3L531.8 116.3L531.5 119.4L531.1 123.7L530.7 128.8L530.2 134.3L529.7 139.8L529.2 145L528.7 149.8L528.1 154.7L527.6 159.5L527 164.5L526.5 169.5L526.2 174.7L526 180.2L525.8 185.8L525.8 191.6L525.8 197.5L525.9 203.1L526 208.6L526.2 213.8L526.4 218.8L526.6 223.7L527 228.6L527.4 233.4L528 238.3L528.7 243.2L529.4 248L530.2 252.9L531.2 257.8L532.3 262.8L533.5 268L534.9 273.5L536.5 279.1L538.3 285L540.1 290.8L542.1 296.5L544 301.9L545.9 307.1L547.8 312.2L549.7 317.2L551.8 322.1L554.2 326.9L556.8 331.5L559.8 336.1L563.3 340.5L566.9 344.9L570.6 349.1L574.4 353.2L578 357L581.6 360.6L585.2 363.9L588.8 367L592.3 370.1L595.7 373L599 376L602.1 379L605.2 381.9L608.1 384.8L610.9 387.6L613.6 390.3L616 393L618.2 395.6L620.3 398.1L622.1 400.5L623.8 402.8L625.4 405.2L626.7 407.6L627.9 410L629 412.3L629.9 414.6L630.6 416.9L631 419.4L631 422L630.7 424.8L630.1 427.8L629.1 430.8L627.9 433.9L626.4 437L624.6 440L622.4 442.9L619.9 445.8L617 448.7L614 451.5L610.8 454.3L607.6 457L604.2 459.6L600.5 462.2L596.7 464.8L593 467.2L589.5 469.7L586.4 472L583.8 474.1L581.5 476L579.4 477.8L577.5 479.8L575.6 482L573.7 484.7L571.8 487.9L569.9 491.6L568.1 495.6L566.3 499.7L564.6 503.9L563 508L561.5 512.1L560 516.3L558.6 520.6L557.2 524.9L555.9 529.1L554.7 533.4L553.5 537.6L552.3 541.9L551.1 546.1L550 550.3L549.1 554.6L548.3 558.8L547.7 563.1L547.4 567.4L547.1 571.8L546.9 576L546.6 580.2L546.2 584.2L545.6 588.1L545 592L544.3 595.8L543.6 599.4L542.8 602.6L542 605.4L541.1 607.7L540 609.7L538.9 611.4L537.9 612.7L537 613.8L536.4 614.7L524.6 614.7Z" fill="#8c9cbe" stroke="#000" stroke-width="2.2" stroke-linejoin="round"/>
<path d="M760.9 163.6L761.2 163.6L761.2 167.6L761.3 173.1L761.3 179.5L761.4 186.5L761.4 193.5L761.5 200L761.6 206L761.6 212.1L761.7 218.1L761.7 224.1L761.8 230L762 236L762.2 242L762.4 248.1L762.7 254.2L762.9 260.1L763.3 265.9L763.7 271.4L764.2 276.6L764.6 281.5L765.2 286.2L765.8 290.8L766.5 295.3L767.3 299.7L768.3 304.1L769.4 308.5L770.6 312.7L771.9 316.8L773.1 320.7L774.3 324.4L775.4 327.7L776.5 330.8L777.6 333.6L778.6 336.4L779.6 339.1L780.6 342L781.5 345L782.3 347.9L783.1 350.9L784 353.9L784.8 356.8L785.8 359.8L786.8 362.7L787.8 365.7L788.9 368.6L790.1 371.5L791.4 374.5L793 377.4L794.8 380.3L796.8 383.3L798.9 386.2L801.2 389.1L803.6 392.1L806.1 395L808.9 397.9L811.9 400.9L815.1 403.8L818.3 406.8L821.2 409.8L823.8 412.8L826.1 415.8L828.1 418.7L830 421.6L831.6 424.7L833.1 428.1L834.4 431.8L835.4 436.1L836 440.9L836.4 446L836.8 451L837.3 455.8L838 460L839 463.6L840.1 466.7L841.3 469.6L842.5 472.3L843.8 475L845 477.8L846.2 480.8L847.5 483.9L848.8 487L850 490.1L851.1 492.9L852 495.4L852.7 497.5L853.2 499.3L853.6 500.9L853.9 502.5L854 504.1L853.9 506L853.7 508.1L853.4 510.3L853 512.7L852.3 515.1L851.5 517.6L850.3 520.2L848.8 522.9L847 525.8L845 528.8L842.8 531.9L840.5 534.9L838 537.9L835.4 540.8L832.5 543.6L829.5 546.5L826.4 549.4L823.3 552.4L820.3 555.5L817.3 558.8L814.3 562.3L811.2 565.9L808.2 569.5L805.3 573.1L802.6 576.7L800 580.2L797.6 583.7L795.3 587.1L793.1 590.6L790.8 594.3L788.5 598L786.1 601.9L783.6 606L781.1 610.1L778.6 614.3L776.4 618.5L774.3 622.7L772.5 626.8L770.8 630.9L769.2 635L767.8 639.2L766.6 643.3L765.5 647.4L764.6 651.5L763.8 655.5L763.2 659.6L762.8 663.7L762.4 667.9L762 672.2L761.7 676.7L761.5 681.4L761.4 686.2L761.3 691L761.3 695.6L761.2 700L761.1 704.4L761.1 708.9L761.1 713.2L761 717.2L761 720.6L761 723L760.9 723Z" fill="#c8cbe0" stroke="#000" stroke-width="2.2" stroke-linejoin="round"/>
<path d="M1286.1 171.4L1302.5 171.4L1303.2 173.4L1304.2 176.2L1305.4 179.5L1306.7 183.2L1307.9 187L1308.9 190.8L1309.8 194.7L1310.6 198.9L1311.4 203.2L1312.1 207.6L1312.7 212L1313.1 216.3L1313.3 220.5L1313.3 224.8L1313.2 229L1313.1 233.2L1313.1 237.5L1313.3 241.7L1313.7 245.9L1314.1 250.2L1314.7 254.4L1315.4 258.6L1316.3 262.9L1317.4 267.1L1318.7 271.3L1320.3 275.4L1322 279.5L1323.9 283.7L1325.9 288L1328 292.5L1330.2 297.2L1332.6 302.1L1335.1 307.1L1337.7 312.1L1340.3 317.2L1342.8 322.2L1345.3 327.2L1347.9 332.3L1350.5 337.3L1353 342.3L1355.4 347.2L1357.6 351.9L1359.7 356.4L1361.6 360.7L1363.5 364.9L1365.2 369L1366.8 373.1L1368.2 377.3L1369.4 381.5L1370.5 385.8L1371.5 390L1372.2 394.2L1372.9 398.5L1373.3 402.7L1373.6 406.9L1373.7 411L1373.6 415.1L1373.4 419.3L1373 423.6L1372.5 428.1L1371.8 432.9L1370.9 437.9L1369.9 443L1368.7 448.2L1367.5 453.1L1366.1 457.8L1364.6 462.1L1363 466.2L1361.3 470.2L1359.5 474L1357.7 477.9L1355.9 481.7L1354.1 485.6L1352.3 489.4L1350.4 493.3L1348.5 497L1346.6 500.7L1344.6 504.3L1342.6 507.8L1340.5 511.1L1338.3 514.3L1336.2 517.5L1334 520.7L1331.9 524L1329.8 527.3L1327.6 530.7L1325.4 534.1L1323.2 537.4L1321.2 540.7L1319.2 543.8L1317.3 546.8L1315.5 549.8L1313.8 552.7L1312.2 555.5L1310.7 558.2L1309.3 560.8L1308.1 563.3L1307.1 565.8L1306.2 568.1L1305.3 570.4L1304.5 572.7L1303.7 574.9L1302.9 577.2L1302 579.7L1301.2 582.1L1300.5 584.4L1299.9 586.2L1299.4 587.6L1286.1 587.6Z" fill="#6078aa" stroke="#000" stroke-width="2.2" stroke-linejoin="round"/>
<path d="M1521.6 195.4L1530.1 195.4L1530.9 198.6L1532 203.1L1533.4 208.4L1534.8 214.1L1536.3 219.8L1537.7 225.1L1539.1 230L1540.5 235L1541.9 239.9L1543.3 244.8L1544.8 249.8L1546.2 254.7L1547.6 259.7L1549.1 264.8L1550.6 269.8L1552 274.8L1553.4 279.7L1554.7 284.4L1555.9 288.9L1557 293.2L1558.1 297.4L1559.1 301.5L1560.1 305.6L1561 309.8L1561.8 314.1L1562.4 318.6L1563 323.1L1563.6 327.4L1564.4 331.5L1565.3 335.3L1566.4 338.6L1567.5 341.4L1568.7 344L1570.1 346.6L1571.8 349.2L1573.7 352.2L1576 355.5L1578.7 358.9L1581.5 362.5L1584.6 366.2L1587.7 369.8L1590.7 373.4L1593.8 376.9L1597.1 380.5L1600.5 384L1603.8 387.5L1606.9 391.1L1609.7 394.6L1612.3 398.1L1614.7 401.7L1616.9 405.3L1619 408.8L1620.9 412.3L1622.5 415.8L1623.9 419.2L1625.2 422.5L1626.3 425.8L1627.1 429.2L1627.7 432.5L1628 436L1628 439.5L1627.8 443.1L1627.3 446.7L1626.6 450.4L1625.7 454.2L1624.6 458.1L1623.3 462.2L1621.9 466.4L1620.3 470.6L1618.4 475L1616.3 479.3L1614 483.6L1611.3 487.8L1608.3 492.1L1605.1 496.3L1601.7 500.5L1598.3 504.8L1594.9 509L1591.4 513.2L1587.8 517.5L1584.2 521.7L1580.5 525.9L1577 530.2L1573.7 534.4L1570.6 538.7L1567.6 543L1564.7 547.4L1562 551.6L1559.3 555.8L1556.8 559.8L1554.4 563.6L1552.1 567.3L1549.9 570.9L1547.8 574.4L1545.8 577.8L1544 581L1542.3 584.2L1540.7 587.3L1539.3 590.2L1537.9 593.1L1536.7 595.7L1535.6 598L1534.6 600.1L1533.7 602L1533 603.7L1532.3 605.2L1531.8 606.4L1531.4 607.3L1521.6 607.3Z" fill="#8c9cbe" stroke="#000" stroke-width="2.2" stroke-linejoin="round"/>
<clipPath id="c2"><rect x="1080.6" y="74.2" width="783.4" height="680.3"/></clipPath>
<g clip-path="url(#c2)">
<path d="M1756.9 116.5L1757.1 116.5L1757.2 121.4L1757.4 128.3L1757.5 136.3L1757.8 144.9L1758 153.2L1758.3 160.6L1758.6 167.1L1759 173.3L1759.4 179.3L1759.8 185.1L1760.3 190.6L1760.8 196L1761.3 201.2L1761.9 206.2L1762.4 211L1763 215.6L1763.6 220L1764.3 224.2L1765 228.1L1765.7 231.5L1766.4 234.8L1767.1 238.1L1768 241.5L1768.9 245.4L1769.9 249.7L1771 254.4L1772.2 259.3L1773.4 264.3L1774.7 269.1L1776 273.7L1777.3 278L1778.7 282.2L1780.1 286.3L1781.5 290.3L1783.1 294.3L1784.8 298.4L1786.6 302.5L1788.5 306.6L1790.6 310.7L1792.7 314.9L1794.9 319L1797.2 323.1L1799.6 327.3L1802.2 331.5L1804.8 335.7L1807.5 339.9L1810.3 344L1813.1 347.9L1815.9 351.7L1818.7 355.3L1821.6 358.9L1824.5 362.4L1827.5 365.7L1830.7 369L1834.2 372.2L1838 375.3L1841.8 378.3L1845.6 381.2L1849 383.9L1851.9 386.5L1854.2 388.8L1856 390.9L1857.5 392.9L1858.8 394.8L1859.8 396.8L1860.8 398.9L1861.6 401.1L1862.3 403.3L1862.7 405.6L1863 408L1863.2 410.4L1863.2 413L1863.1 415.7L1862.8 418.5L1862.4 421.4L1861.9 424.3L1861.4 427.4L1860.8 430.6L1860.1 433.9L1859.3 437.3L1858.5 440.8L1857.6 444.3L1856.8 448L1856.2 451.8L1855.7 455.8L1855.4 460.2L1855.2 464.6L1854.9 469L1854.7 473L1854.4 476.6L1854.1 479.5L1853.9 482L1853.7 484.1L1853.4 486.1L1852.8 488.3L1851.9 490.7L1850.7 493.4L1849.2 496.3L1847.5 499.3L1845.7 502.4L1843.6 505.4L1841.3 508.4L1838.8 511.3L1836.1 514.3L1833.2 517.2L1830.1 520.1L1826.9 523.1L1823.7 526L1820.3 529L1816.7 532L1813 535.1L1809.3 538.1L1805.8 541L1802.5 543.7L1799.5 546.2L1796.5 548.5L1793.8 550.8L1791.2 553L1788.8 555.3L1786.6 557.8L1784.7 560.5L1783.1 563.4L1781.6 566.4L1780.3 569.5L1779.1 572.5L1777.8 575.5L1776.5 578.4L1775.3 581.2L1774.1 584.1L1773 587L1771.8 590L1770.7 593.1L1769.6 596.4L1768.4 599.9L1767.3 603.5L1766.2 607.1L1765.2 610.7L1764.3 614.3L1763.5 617.9L1762.7 621.5L1761.9 625.1L1761.3 628.6L1760.7 632.1L1760.1 635.5L1759.6 638.7L1759.1 641.7L1758.7 644.7L1758.4 647.7L1758.1 650.7L1757.8 654L1757.6 657.5L1757.4 661L1757.3 664.7L1757.2 668.5L1757.1 672.2L1757 676L1756.9 680L1756.9 684.4L1756.9 688.9L1756.9 693L1756.9 696.5L1756.9 699L1756.9 699Z" fill="#c8cbe0" stroke="#000" stroke-width="2.2" stroke-linejoin="round"/>
</g>
<g stroke="#111" stroke-width="4">
<path d="M76.8 177.8H85"/>
<path d="M76.8 302.4H85"/>
<path d="M76.8 427.1H85"/>
<path d="M76.8 551.7H85"/>
<path d="M76.8 676.3H85"/>
<path d="M1073.4 152.2H1082"/>
<path d="M1073.4 247.8H1082"/>
<path d="M1073.4 343.3H1082"/>
<path d="M1073.4 438.9H1082"/>
<path d="M1073.4 534.4H1082"/>
<path d="M1073.4 629.9H1082"/>
<path d="M1073.4 725.5H1082"/>
</g>
<g stroke="#111" stroke-width="4.5">
<path d="M272 755V768.8"/>
<path d="M507.8 755V768.8"/>
<path d="M741.9 755V768.8"/>
<path d="M1269.4 755V768.8"/>
<path d="M1503 755V768.8"/>
<path d="M1737.8 755V768.8"/>
</g>
<g font-size="29" fill="#111" text-anchor="end">
<text x="75.6" y="186.2">15</text>
<text x="75.6" y="310.8">10</text>
<text x="75.6" y="435.5">5</text>
<text x="75.6" y="560.1">0</text>
<text x="75.6" y="684.7">-5</text>
<text x="1073.2" y="161">50</text>
<text x="1073.2" y="256.6">40</text>
<text x="1073.2" y="352.1">30</text>
<text x="1073.2" y="447.7">20</text>
<text x="1073.2" y="543.2">10</text>
<text x="1073.2" y="638.7">0</text>
<text x="1073.2" y="734.3">-10</text>
</g>
<g font-size="29.2" fill="#111" text-anchor="middle">
<text x="431" y="25.7">IMAGEN</text>
<text x="1439.5" y="25.7">ABCD</text>
<text x="242.2" y="802.8">Cross-disorder</text>
<text x="242.2" y="835.3">(N = 39)</text>
<text x="503.2" y="802.8">Specific-disorder</text>
<text x="503.2" y="835.3">(N = 95)</text>
<text x="751.6" y="802.8">Healthy control</text>
<text x="751.6" y="835.3">(N = 859)</text>
<text x="1248.2" y="802.8">Cross-disorder</text>
<text x="1248.2" y="835.3">(N = 61)</text>
<text x="1502.6" y="802.8">Specific-disorder</text>
<text x="1502.6" y="835.3">(N = 160)</text>
<text x="1751.8" y="802.8">Healthy control</text>
<text x="1751.8" y="835.3">(N = 1,578)</text>
</g>
<g font-size="28.7" fill="#111" text-anchor="middle">
<text transform="translate(22 444.5) rotate(-90)"><tspan font-style="italic">NP</tspan> factor score</text>
<text transform="translate(996.2 444.5) rotate(-90)"><tspan font-style="italic">NP</tspan> factor score</text>
</g>
<g font-size="24" fill="#333" text-anchor="middle" letter-spacing="2.2">
<text x="496.4" y="103.8">***</text>
<text x="384.8" y="133.5">*</text>
<text x="624.1" y="152.8">***</text>
<text x="1499.2" y="97.2">***</text>
<text x="1388.2" y="133.8">*</text>
<text x="1603.2" y="146.5" font-size="25.2" fill="#222" letter-spacing="0">ns.</text>
</g>
</svg>
</body></html>
